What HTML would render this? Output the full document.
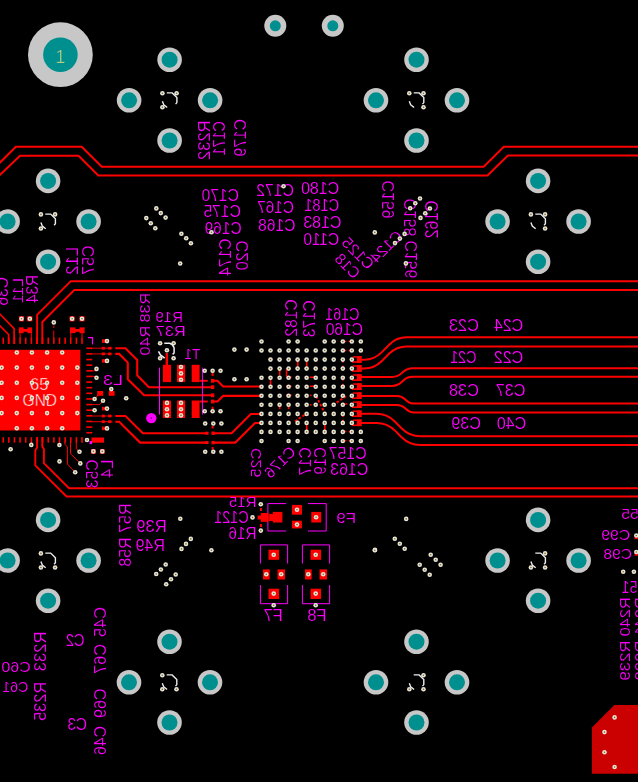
<!DOCTYPE html>
<html><head><meta charset="utf-8"><title>PCB</title>
<style>html,body{margin:0;padding:0;background:#000;overflow:hidden}svg{display:block}text{font-family:"Liberation Sans",sans-serif}</style>
</head><body>
<svg width="638" height="782" viewBox="0 0 638 782">
<rect width="638" height="782" fill="#000"/>
<g opacity="0.999">
<path d="M-2.00,164.50 L15.90,146.70 L81.70,146.70 L101.80,166.80 L483.70,166.80 L503.80,146.70 L640.00,146.70" stroke="#ff0000" stroke-width="2.00" fill="none" />
<path d="M-2.00,176.80 L20.00,155.80 L78.50,155.80 L98.30,175.50 L487.50,175.50 L507.90,155.50 L640.00,155.50" stroke="#ff0000" stroke-width="2.00" fill="none" />
<path d="M37.10,344.00 L37.10,314.90 L70.80,281.20 L640.00,281.20" stroke="#ff0000" stroke-width="1.90" fill="none" />
<path d="M42.30,344.00 L42.30,322.00 L74.30,290.00 L640.00,290.00" stroke="#ff0000" stroke-width="1.90" fill="none" />
<path d="M-2.00,312.10 L14.10,328.60 L14.10,344.00" stroke="#ff0000" stroke-width="1.70" fill="none" />
<path d="M-2.00,323.90 L8.60,334.50 L8.60,344.00" stroke="#ff0000" stroke-width="1.70" fill="none" />
<path d="M37.10,437.00 L37.10,447.40 L35.30,450.50 L35.30,465.30 L66.50,496.50 L640.00,496.50" stroke="#ff0000" stroke-width="1.90" fill="none" />
<path d="M42.30,437.00 L42.30,446.60 L43.90,449.00 L43.90,463.10 L69.00,488.20 L640.00,488.20" stroke="#ff0000" stroke-width="1.90" fill="none" />
<rect x="-1.00" y="349.80" width="81.40" height="80.70" fill="#ff0000"/>
<rect x="-3.23" y="337.60" width="1.60" height="6.30" fill="#ff0000"/>
<rect x="-3.23" y="437.20" width="1.60" height="5.50" fill="#ff0000"/>
<rect x="86.30" y="347.47" width="6.00" height="1.60" fill="#ff0000"/>
<rect x="2.40" y="337.60" width="1.60" height="6.30" fill="#ff0000"/>
<rect x="2.40" y="437.20" width="1.60" height="5.50" fill="#ff0000"/>
<rect x="86.30" y="353.10" width="6.00" height="1.60" fill="#ff0000"/>
<rect x="8.03" y="337.60" width="1.60" height="6.30" fill="#ff0000"/>
<rect x="8.03" y="437.20" width="1.60" height="5.50" fill="#ff0000"/>
<rect x="86.30" y="358.74" width="6.00" height="1.60" fill="#ff0000"/>
<rect x="13.66" y="337.60" width="1.60" height="6.30" fill="#ff0000"/>
<rect x="13.66" y="437.20" width="1.60" height="5.50" fill="#ff0000"/>
<rect x="86.30" y="364.37" width="6.00" height="1.60" fill="#ff0000"/>
<rect x="19.29" y="337.60" width="1.60" height="6.30" fill="#ff0000"/>
<rect x="19.29" y="437.20" width="1.60" height="5.50" fill="#ff0000"/>
<rect x="86.30" y="370.00" width="6.00" height="1.60" fill="#ff0000"/>
<rect x="24.92" y="337.60" width="1.60" height="6.30" fill="#ff0000"/>
<rect x="24.92" y="437.20" width="1.60" height="5.50" fill="#ff0000"/>
<rect x="86.30" y="375.62" width="6.00" height="1.60" fill="#ff0000"/>
<rect x="30.55" y="337.60" width="1.60" height="6.30" fill="#ff0000"/>
<rect x="30.55" y="437.20" width="1.60" height="5.50" fill="#ff0000"/>
<rect x="86.30" y="381.25" width="6.00" height="1.60" fill="#ff0000"/>
<rect x="36.19" y="337.60" width="1.60" height="6.30" fill="#ff0000"/>
<rect x="36.19" y="437.20" width="1.60" height="5.50" fill="#ff0000"/>
<rect x="86.30" y="386.88" width="6.00" height="1.60" fill="#ff0000"/>
<rect x="41.81" y="337.60" width="1.60" height="6.30" fill="#ff0000"/>
<rect x="41.81" y="437.20" width="1.60" height="5.50" fill="#ff0000"/>
<rect x="86.30" y="392.51" width="6.00" height="1.60" fill="#ff0000"/>
<rect x="47.45" y="337.60" width="1.60" height="6.30" fill="#ff0000"/>
<rect x="47.45" y="437.20" width="1.60" height="5.50" fill="#ff0000"/>
<rect x="86.30" y="398.14" width="6.00" height="1.60" fill="#ff0000"/>
<rect x="53.08" y="337.60" width="1.60" height="6.30" fill="#ff0000"/>
<rect x="53.08" y="437.20" width="1.60" height="5.50" fill="#ff0000"/>
<rect x="86.30" y="403.77" width="6.00" height="1.60" fill="#ff0000"/>
<rect x="58.70" y="337.60" width="1.60" height="6.30" fill="#ff0000"/>
<rect x="58.70" y="437.20" width="1.60" height="5.50" fill="#ff0000"/>
<rect x="86.30" y="409.40" width="6.00" height="1.60" fill="#ff0000"/>
<rect x="64.33" y="337.60" width="1.60" height="6.30" fill="#ff0000"/>
<rect x="64.33" y="437.20" width="1.60" height="5.50" fill="#ff0000"/>
<rect x="86.30" y="415.03" width="6.00" height="1.60" fill="#ff0000"/>
<rect x="69.97" y="337.60" width="1.60" height="6.30" fill="#ff0000"/>
<rect x="69.97" y="437.20" width="1.60" height="5.50" fill="#ff0000"/>
<rect x="86.30" y="420.66" width="6.00" height="1.60" fill="#ff0000"/>
<rect x="75.59" y="337.60" width="1.60" height="6.30" fill="#ff0000"/>
<rect x="75.59" y="437.20" width="1.60" height="5.50" fill="#ff0000"/>
<rect x="86.30" y="426.30" width="6.00" height="1.60" fill="#ff0000"/>
<rect x="81.23" y="337.60" width="1.60" height="6.30" fill="#ff0000"/>
<rect x="81.23" y="437.20" width="1.60" height="5.50" fill="#ff0000"/>
<rect x="86.30" y="431.93" width="6.00" height="1.60" fill="#ff0000"/>
<path d="M88.00,337.60 L92.50,337.60 L92.50,344.50" stroke="#ff00ff" stroke-width="1.20" fill="none" />
<text transform="matrix(1.0000,0.0000,-0.0000,1.0000,39.20,383.80)" x="0" y="5.90" font-size="16.74" text-anchor="middle" textLength="18.40" lengthAdjust="spacingAndGlyphs" fill="#ffffff" stroke="#ff0000" stroke-width="0.4">65</text>
<text transform="matrix(1.0000,0.0000,-0.0000,1.0000,39.80,400.00)" x="0" y="5.90" font-size="16.74" text-anchor="middle" textLength="34.40" lengthAdjust="spacingAndGlyphs" fill="#ffffff" stroke="#ff0000" stroke-width="0.4">GND</text>
<rect x="18.90" y="316.20" width="5.20" height="5.20" fill="#ff0000"/>
<rect x="27.20" y="316.20" width="5.20" height="5.20" fill="#ff0000"/>
<rect x="18.80" y="327.40" width="4.80" height="5.80" fill="#ff0000"/>
<rect x="27.40" y="327.40" width="4.70" height="5.80" fill="#ff0000"/>
<rect x="23.00" y="329.00" width="5.00" height="2.80" fill="#ff0000"/>
<path d="M20.10,333.00 L20.10,338.00" stroke="#ff0000" stroke-width="1.00" fill="none" />
<path d="M31.30,333.00 L31.30,338.00" stroke="#ff0000" stroke-width="1.00" fill="none" />
<rect x="69.50" y="316.20" width="5.20" height="5.20" fill="#ff0000"/>
<rect x="79.40" y="316.20" width="5.20" height="5.20" fill="#ff0000"/>
<rect x="70.00" y="327.40" width="5.50" height="5.80" fill="#ff0000"/>
<rect x="79.50" y="327.40" width="5.10" height="5.80" fill="#ff0000"/>
<rect x="75.00" y="329.00" width="5.00" height="2.80" fill="#ff0000"/>
<path d="M70.80,333.00 L70.80,338.00" stroke="#ff0000" stroke-width="1.00" fill="none" />
<path d="M82.00,333.00 L82.00,338.00" stroke="#ff0000" stroke-width="1.00" fill="none" />
<path d="M53.80,325.50 L53.80,328.00" stroke="#ff0000" stroke-width="1.00" fill="none" />
<path d="M53.80,330.50 L53.80,338.00" stroke="#ff0000" stroke-width="1.00" fill="none" />
<path d="M31.30,442.00 L31.30,444.70" stroke="#ff0000" stroke-width="1.00" fill="none" />
<path d="M59.40,442.00 L59.40,445.00" stroke="#ff0000" stroke-width="1.00" fill="none" />
<path d="M65.00,442.00 L65.00,444.50 L67.40,447.00 L67.40,464.00 L75.20,472.30" stroke="#ff0000" stroke-width="1.00" fill="none" />
<path d="M70.50,442.00 L70.50,453.70 L80.30,463.40" stroke="#ff0000" stroke-width="1.00" fill="none" />
<path d="M76.30,442.00 L76.30,448.60 L79.50,451.80" stroke="#ff0000" stroke-width="1.00" fill="none" />
<rect x="91.50" y="437.50" width="12.50" height="5.20" fill="#ff0000"/>
<rect x="89.5" y="441" width="2.6" height="3.2" fill="#ff00ff"/>
<rect x="91.00" y="449.00" width="4.80" height="4.80" fill="#ff0000"/>
<rect x="99.90" y="449.00" width="4.80" height="4.80" fill="#ff0000"/>
<path d="M92.00,348.20 L112.50,348.20" stroke="#ff0000" stroke-width="0.90" fill="none" />
<rect x="101.70" y="346.80" width="3.20" height="2.80" fill="#ff0000"/>
<rect x="108.20" y="346.80" width="3.20" height="2.80" fill="#ff0000"/>
<path d="M92.00,353.90 L112.50,353.90" stroke="#ff0000" stroke-width="0.90" fill="none" />
<rect x="101.70" y="352.50" width="3.20" height="2.80" fill="#ff0000"/>
<rect x="108.20" y="352.50" width="3.20" height="2.80" fill="#ff0000"/>
<path d="M92.00,416.00 L112.50,416.00" stroke="#ff0000" stroke-width="0.90" fill="none" />
<rect x="101.70" y="414.60" width="3.20" height="2.80" fill="#ff0000"/>
<rect x="108.20" y="414.60" width="3.20" height="2.80" fill="#ff0000"/>
<path d="M92.00,421.70 L112.50,421.70" stroke="#ff0000" stroke-width="0.90" fill="none" />
<rect x="101.70" y="420.30" width="3.20" height="2.80" fill="#ff0000"/>
<rect x="108.20" y="420.30" width="3.20" height="2.80" fill="#ff0000"/>
<rect x="102.00" y="339.30" width="4.00" height="3.60" fill="#ff0000"/>
<rect x="102.00" y="359.10" width="4.00" height="3.60" fill="#ff0000"/>
<rect x="102.00" y="406.80" width="4.00" height="3.60" fill="#ff0000"/>
<rect x="102.00" y="426.60" width="4.00" height="3.60" fill="#ff0000"/>
<path d="M92.00,370.80 L96.50,370.80" stroke="#ff0000" stroke-width="0.90" fill="none" />
<path d="M92.00,376.40 L96.50,376.40" stroke="#ff0000" stroke-width="0.90" fill="none" />
<rect x="97.20" y="391.00" width="6.00" height="4.80" fill="#ff0000"/>
<rect x="108.70" y="391.00" width="5.90" height="4.80" fill="#ff0000"/>
<path d="M92.00,399.00 L94.60,399.00 L99.00,394.00" stroke="#ff0000" stroke-width="0.90" fill="none" />
<path d="M92.00,404.60 L99.50,404.60 L103.00,400.80" stroke="#ff0000" stroke-width="0.90" fill="none" />
<path d="M92.00,410.20 L94.60,410.20" stroke="#ff0000" stroke-width="0.90" fill="none" />
<path d="M115.30,348.20 L125.50,348.20 L137.20,359.90 L137.20,375.30 L148.80,387.20 L212.80,387.20" stroke="#ff0000" stroke-width="2.10" fill="none" />
<path d="M115.30,353.90 L119.20,353.90 L127.80,362.60 L127.80,379.20 L144.10,395.30 L212.80,395.30" stroke="#ff0000" stroke-width="2.10" fill="none" />
<path d="M115.30,416.00 L125.50,416.00 L142.80,433.20 L208.40,433.20" stroke="#ff0000" stroke-width="2.10" fill="none" />
<path d="M115.30,421.70 L119.20,421.70 L140.10,442.60 L208.40,442.60" stroke="#ff0000" stroke-width="2.10" fill="none" />
<path d="M211.60,433.20 L231.60,433.20 L250.80,414.00 L261.50,414.00" stroke="#ff0000" stroke-width="2.10" fill="none" />
<path d="M211.60,442.60 L235.30,442.60 L255.00,423.00 L261.50,423.00" stroke="#ff0000" stroke-width="2.10" fill="none" />
<path d="M213.00,380.80 L217.50,380.80 L223.10,386.50 L261.50,386.50" stroke="#ff0000" stroke-width="2.10" fill="none" />
<path d="M213.00,401.50 L217.50,401.50 L223.10,395.90 L261.50,395.90" stroke="#ff0000" stroke-width="2.10" fill="none" />
<rect x="211.00" y="378.90" width="3.30" height="3.80" fill="#ff0000"/>
<rect x="211.00" y="385.30" width="3.30" height="3.80" fill="#ff0000"/>
<rect x="211.00" y="393.40" width="3.30" height="3.80" fill="#ff0000"/>
<rect x="211.00" y="399.60" width="3.30" height="3.80" fill="#ff0000"/>
<rect x="211.60" y="372.80" width="2.00" height="3.20" fill="#ff0000"/>
<rect x="211.60" y="406.70" width="2.00" height="2.60" fill="#ff0000"/>
<rect x="211.60" y="425.90" width="2.00" height="2.60" fill="#ff0000"/>
<rect x="211.60" y="447.00" width="2.00" height="2.60" fill="#ff0000"/>
<path d="M199.60,380.80 L207.80,380.80" stroke="#ff0000" stroke-width="1.90" fill="none" />
<path d="M199.60,401.50 L207.80,401.50" stroke="#ff0000" stroke-width="1.90" fill="none" />
<rect x="205.20" y="431.70" width="3.20" height="3.00" fill="#ff0000"/>
<rect x="205.20" y="441.10" width="3.20" height="3.00" fill="#ff0000"/>
<rect x="211.60" y="431.50" width="3.20" height="3.40" fill="#ff0000"/>
<rect x="211.60" y="440.90" width="3.20" height="3.40" fill="#ff0000"/>
<path d="M159.50,367.60 L159.50,414.60" stroke="#ff00ff" stroke-width="1.00" fill="none" />
<path d="M202.40,367.60 L202.40,414.60" stroke="#ff00ff" stroke-width="1.00" fill="none" />
<rect x="162.90" y="364.80" width="8.10" height="17.30" fill="#ff0000"/>
<rect x="162.90" y="400.50" width="8.10" height="17.50" fill="#ff0000"/>
<rect x="177.00" y="364.80" width="8.10" height="17.30" fill="#ff0000"/>
<rect x="177.00" y="400.50" width="8.10" height="17.50" fill="#ff0000"/>
<rect x="191.70" y="364.80" width="7.90" height="17.30" fill="#ff0000"/>
<rect x="191.70" y="400.50" width="7.90" height="17.50" fill="#ff0000"/>
<path d="M166.80,353.00 L166.80,365.00" stroke="#ff0000" stroke-width="2.40" fill="none" />
<circle cx="151.3" cy="418.1" r="5.2" fill="#ff00ff"/><circle cx="151.3" cy="418.1" r="0.8" fill="#700070"/>
<path d="M164.3,343.2 H169.5 Q172.5,343.8 174.1,347.8 V353 L172.6,354.4" stroke="#f0f0f0" stroke-width="1.50" fill="none" />
<path d="M158.5,351.4 L160.4,354.9 L164.7,358.2" stroke="#f0f0f0" stroke-width="1.50" fill="none" />
<rect x="352.90" y="356.19" width="8.70" height="1.50" fill="#ff0000"/>
<rect x="351.90" y="361.19" width="9.70" height="1.60" fill="#ff0000"/>
<rect x="356.90" y="356.19" width="4.70" height="6.60" fill="#ff0000"/>
<rect x="352.90" y="365.24" width="8.70" height="1.50" fill="#ff0000"/>
<rect x="351.90" y="370.24" width="9.70" height="1.60" fill="#ff0000"/>
<rect x="356.90" y="365.24" width="4.70" height="6.60" fill="#ff0000"/>
<rect x="352.90" y="374.28" width="8.70" height="1.50" fill="#ff0000"/>
<rect x="351.90" y="379.28" width="9.70" height="1.60" fill="#ff0000"/>
<rect x="356.90" y="374.28" width="4.70" height="6.60" fill="#ff0000"/>
<rect x="352.90" y="383.33" width="8.70" height="1.50" fill="#ff0000"/>
<rect x="351.90" y="388.33" width="9.70" height="1.60" fill="#ff0000"/>
<rect x="356.90" y="383.33" width="4.70" height="6.60" fill="#ff0000"/>
<rect x="352.90" y="392.37" width="8.70" height="1.50" fill="#ff0000"/>
<rect x="351.90" y="397.37" width="9.70" height="1.60" fill="#ff0000"/>
<rect x="356.90" y="392.37" width="4.70" height="6.60" fill="#ff0000"/>
<rect x="352.90" y="401.42" width="8.70" height="1.50" fill="#ff0000"/>
<rect x="351.90" y="406.42" width="9.70" height="1.60" fill="#ff0000"/>
<rect x="356.90" y="401.42" width="4.70" height="6.60" fill="#ff0000"/>
<rect x="352.90" y="410.46" width="8.70" height="1.50" fill="#ff0000"/>
<rect x="351.90" y="415.46" width="9.70" height="1.60" fill="#ff0000"/>
<rect x="356.90" y="410.46" width="4.70" height="6.60" fill="#ff0000"/>
<rect x="352.90" y="419.50" width="8.70" height="1.50" fill="#ff0000"/>
<rect x="351.90" y="424.50" width="9.70" height="1.60" fill="#ff0000"/>
<rect x="356.90" y="419.50" width="4.70" height="6.60" fill="#ff0000"/>
<rect x="296.96" y="361.72" width="1.60" height="5.17" fill="#ff0000"/>
<rect x="305.92" y="361.72" width="1.60" height="5.17" fill="#ff0000"/>
<rect x="278.86" y="369.48" width="1.60" height="6.03" fill="#ff0000"/>
<rect x="285.75" y="368.62" width="1.60" height="7.76" fill="#ff0000"/>
<rect x="269.72" y="378.97" width="1.60" height="6.90" fill="#ff0000"/>
<rect x="278.86" y="403.10" width="1.60" height="6.03" fill="#ff0000"/>
<rect x="287.82" y="403.10" width="1.60" height="6.03" fill="#ff0000"/>
<rect x="305.92" y="423.79" width="1.60" height="6.90" fill="#ff0000"/>
<rect x="324.03" y="423.79" width="1.60" height="6.90" fill="#ff0000"/>
<rect x="342.13" y="361.21" width="1.60" height="1.38" fill="#ff0000"/>
<rect x="342.13" y="365.69" width="1.60" height="1.38" fill="#ff0000"/>
<rect x="342.13" y="379.31" width="1.60" height="1.38" fill="#ff0000"/>
<rect x="342.13" y="383.79" width="1.60" height="1.38" fill="#ff0000"/>
<rect x="342.13" y="415.52" width="1.60" height="1.38" fill="#ff0000"/>
<rect x="342.13" y="419.83" width="1.60" height="1.38" fill="#ff0000"/>
<rect x="296.96" y="360.86" width="1.60" height="1.72" fill="#ff0000"/>
<rect x="286.03" y="376.44" width="5.52" height="1.60" fill="#ff0000"/>
<rect x="286.03" y="385.41" width="5.52" height="1.60" fill="#ff0000"/>
<rect x="286.03" y="394.54" width="5.52" height="1.60" fill="#ff0000"/>
<rect x="309.83" y="376.44" width="4.14" height="1.60" fill="#ff0000"/>
<rect x="309.83" y="385.41" width="4.14" height="1.60" fill="#ff0000"/>
<rect x="309.83" y="394.54" width="1.72" height="1.60" fill="#ff0000"/>
<rect x="309.83" y="404.03" width="1.72" height="1.60" fill="#ff0000"/>
<rect x="345.00" y="340.58" width="1.38" height="1.60" fill="#ff0000"/>
<rect x="348.62" y="340.58" width="1.21" height="1.60" fill="#ff0000"/>
<rect x="345.00" y="349.72" width="1.38" height="1.60" fill="#ff0000"/>
<rect x="348.62" y="349.72" width="1.21" height="1.60" fill="#ff0000"/>
<rect x="345.00" y="430.75" width="1.38" height="1.60" fill="#ff0000"/>
<rect x="348.62" y="430.75" width="1.21" height="1.60" fill="#ff0000"/>
<rect x="345.00" y="439.89" width="1.38" height="1.60" fill="#ff0000"/>
<rect x="348.62" y="439.89" width="1.21" height="1.60" fill="#ff0000"/>
<rect x="345.00" y="403.17" width="2.24" height="1.60" fill="#ff0000"/>
<path d="M316.21,396.21 L325.34,414.31" stroke="#ff0000" stroke-width="2.00" fill="none" stroke-dasharray="2.6 1.8"/>
<path d="M346.03,396.21 L333.45,404.83" stroke="#ff0000" stroke-width="2.00" fill="none" stroke-dasharray="2.6 1.8"/>
<path d="M295.00,421.21 L306.72,413.45" stroke="#ff0000" stroke-width="2.00" fill="none" stroke-dasharray="2.6 1.8"/>
<path d="M361.00,359.70 H364.20 a24.20,24.20 0 0 0 17.11,-7.09 l8.17,-8.17 a24.20,24.20 0 0 1 17.11,-7.09 H640.00" stroke="#ff0000" stroke-width="2.00" fill="none" />
<path d="M361.00,368.50 H364.20 a24.51,24.51 0 0 0 17.33,-7.18 l7.74,-7.74 a24.51,24.51 0 0 1 17.33,-7.18 H640.00" stroke="#ff0000" stroke-width="2.00" fill="none" />
<path d="M361.00,376.90 H392.00 a14.49,14.49 0 0 0 10.24,-4.24 l0.21,-0.21 a14.49,14.49 0 0 1 10.24,-4.24 H640.00" stroke="#ff0000" stroke-width="2.00" fill="none" />
<path d="M361.00,385.90 H392.00 a14.06,14.06 0 0 0 9.94,-4.12 l0.81,-0.81 a14.06,14.06 0 0 1 9.94,-4.12 H640.00" stroke="#ff0000" stroke-width="2.00" fill="none" />
<path d="M361.00,395.90 H397.00 a11.35,11.35 0 0 1 8.02,3.32 l1.05,1.05 a11.35,11.35 0 0 0 8.02,3.32 H640.00" stroke="#ff0000" stroke-width="2.00" fill="none" />
<path d="M361.00,404.90 H397.00 a11.59,11.59 0 0 1 8.19,3.39 l0.71,0.71 a11.59,11.59 0 0 0 8.19,3.39 H640.00" stroke="#ff0000" stroke-width="2.00" fill="none" />
<path d="M361.00,413.80 H376.40 a25.71,25.71 0 0 1 18.18,7.53 l7.44,7.44 a25.71,25.71 0 0 0 18.18,7.53 H640.00" stroke="#ff0000" stroke-width="2.00" fill="none" />
<path d="M361.00,422.90 H376.40 a26.32,26.32 0 0 1 18.61,7.71 l6.58,6.58 a26.32,26.32 0 0 0 18.61,7.71 H640.00" stroke="#ff0000" stroke-width="2.00" fill="none" />
<path d="M286.10,503.60 L267.90,503.60 L267.90,531.00 L286.10,531.00" stroke="#ff00ff" stroke-width="1.00" fill="none" />
<path d="M308.00,503.60 L326.20,503.60 L326.20,531.00 L308.00,531.00" stroke="#ff00ff" stroke-width="1.00" fill="none" />
<rect x="272.90" y="511.90" width="9.50" height="10.60" fill="#ff0000"/>
<rect x="260.80" y="513.00" width="7.80" height="8.80" fill="#ff0000"/>
<rect x="257.60" y="515.50" width="3.40" height="4.00" fill="#ff0000"/>
<rect x="266.00" y="514.00" width="8.00" height="7.00" fill="#ff0000"/>
<rect x="268.4" y="512.5" width="1" height="10" fill="#a00"/>
<rect x="292.10" y="504.90" width="9.80" height="9.80" fill="#ff0000"/>
<rect x="292.00" y="520.70" width="9.90" height="7.70" fill="#ff0000"/>
<rect x="292.00" y="505.80" width="9.90" height="7.90" fill="#ff0000"/>
<rect x="311.30" y="511.90" width="9.90" height="10.60" fill="#ff0000"/>
<path d="M260.40,563.50 L260.40,544.90 L287.60,544.90 L287.60,563.50" stroke="#ff00ff" stroke-width="1.00" fill="none" />
<path d="M260.40,585.00 L260.40,603.70 L287.60,603.70 L287.60,585.00" stroke="#ff00ff" stroke-width="1.00" fill="none" />
<rect x="268.50" y="549.70" width="10.60" height="10.10" fill="#ff0000"/>
<rect x="268.50" y="588.70" width="10.60" height="10.30" fill="#ff0000"/>
<rect x="263.00" y="569.40" width="6.70" height="10.10" fill="#ff0000"/>
<rect x="277.50" y="569.40" width="7.50" height="10.10" fill="#ff0000"/>
<path d="M302.40,563.50 L302.40,544.90 L329.60,544.90 L329.60,563.50" stroke="#ff00ff" stroke-width="1.00" fill="none" />
<path d="M302.40,585.00 L302.40,603.70 L329.60,603.70 L329.60,585.00" stroke="#ff00ff" stroke-width="1.00" fill="none" />
<rect x="310.50" y="549.70" width="10.60" height="10.10" fill="#ff0000"/>
<rect x="310.50" y="588.70" width="10.60" height="10.30" fill="#ff0000"/>
<rect x="305.00" y="569.40" width="6.70" height="10.10" fill="#ff0000"/>
<rect x="319.50" y="569.40" width="7.50" height="10.10" fill="#ff0000"/>
<rect x="260.00" y="508.00" width="2.00" height="3.00" fill="#ff0000"/>
<rect x="260.00" y="524.00" width="2.00" height="3.00" fill="#ff0000"/>
<rect x="634.60" y="536.00" width="3.40" height="3.20" fill="#ff0000"/>
<rect x="634.60" y="552.50" width="3.40" height="3.20" fill="#ff0000"/>
<polygon points="591.9,727.4 614.3,705 640,705 640,773.8 591.9,773.8" fill="#cc0000"/>
<circle cx="60.4" cy="54.7" r="32.4" fill="#c8c8c8"/><circle cx="60.4" cy="54.7" r="17.3" fill="#009090"/>
<text x="60.6" y="62.6" font-size="18" text-anchor="middle" fill="#ffe680" stroke="#009090" stroke-width="0.6">1</text>
<circle cx="275.3" cy="25.8" r="11.0" fill="#c8c8c8"/><circle cx="275.3" cy="25.8" r="5.5" fill="#009090"/>
<circle cx="332.8" cy="25.8" r="11.0" fill="#c8c8c8"/><circle cx="332.8" cy="25.8" r="5.5" fill="#009090"/>
<circle cx="169.6" cy="59.7" r="12.3" fill="#c8c8c8"/><circle cx="169.6" cy="59.7" r="8.0" fill="#009090"/>
<circle cx="129.1" cy="100.3" r="12.3" fill="#c8c8c8"/><circle cx="129.1" cy="100.3" r="8.0" fill="#009090"/>
<circle cx="210.1" cy="100.3" r="12.3" fill="#c8c8c8"/><circle cx="210.1" cy="100.3" r="8.0" fill="#009090"/>
<circle cx="169.6" cy="140.5" r="12.3" fill="#c8c8c8"/><circle cx="169.6" cy="140.5" r="8.0" fill="#009090"/>
<path d="M166.80,92.90 h5.4 l4.7,4.7 v5 l-1.3,1.5" stroke="#f0f0f0" stroke-width="1.40" fill="none" />
<path d="M162.40,101.30 l1.4,3.6 l3.4,2.6" stroke="#f0f0f0" stroke-width="1.40" fill="none" />
<circle cx="416.5" cy="59.7" r="12.3" fill="#c8c8c8"/><circle cx="416.5" cy="59.7" r="8.0" fill="#009090"/>
<circle cx="376.0" cy="100.3" r="12.3" fill="#c8c8c8"/><circle cx="376.0" cy="100.3" r="8.0" fill="#009090"/>
<circle cx="457.0" cy="100.3" r="12.3" fill="#c8c8c8"/><circle cx="457.0" cy="100.3" r="8.0" fill="#009090"/>
<circle cx="416.5" cy="140.5" r="12.3" fill="#c8c8c8"/><circle cx="416.5" cy="140.5" r="8.0" fill="#009090"/>
<path d="M413.70,92.90 h5.4 l4.7,4.7 v5 l-1.3,1.5" stroke="#f0f0f0" stroke-width="1.40" fill="none" />
<path d="M409.30,101.30 l1.4,3.6 l3.4,2.6" stroke="#f0f0f0" stroke-width="1.40" fill="none" />
<circle cx="48.1" cy="180.9" r="12.3" fill="#c8c8c8"/><circle cx="48.1" cy="180.9" r="8.0" fill="#009090"/>
<circle cx="7.6" cy="221.5" r="12.3" fill="#c8c8c8"/><circle cx="7.6" cy="221.5" r="8.0" fill="#009090"/>
<circle cx="88.6" cy="221.5" r="12.3" fill="#c8c8c8"/><circle cx="88.6" cy="221.5" r="8.0" fill="#009090"/>
<circle cx="48.1" cy="261.7" r="12.3" fill="#c8c8c8"/><circle cx="48.1" cy="261.7" r="8.0" fill="#009090"/>
<path d="M45.30,214.10 h5.4 l4.7,4.7 v5 l-1.3,1.5" stroke="#f0f0f0" stroke-width="1.40" fill="none" />
<path d="M40.90,222.50 l1.4,3.6 l3.4,2.6" stroke="#f0f0f0" stroke-width="1.40" fill="none" />
<circle cx="538.1" cy="180.9" r="12.3" fill="#c8c8c8"/><circle cx="538.1" cy="180.9" r="8.0" fill="#009090"/>
<circle cx="497.6" cy="221.5" r="12.3" fill="#c8c8c8"/><circle cx="497.6" cy="221.5" r="8.0" fill="#009090"/>
<circle cx="578.6" cy="221.5" r="12.3" fill="#c8c8c8"/><circle cx="578.6" cy="221.5" r="8.0" fill="#009090"/>
<circle cx="538.1" cy="261.7" r="12.3" fill="#c8c8c8"/><circle cx="538.1" cy="261.7" r="8.0" fill="#009090"/>
<path d="M535.30,214.10 h5.4 l4.7,4.7 v5 l-1.3,1.5" stroke="#f0f0f0" stroke-width="1.40" fill="none" />
<path d="M530.90,222.50 l1.4,3.6 l3.4,2.6" stroke="#f0f0f0" stroke-width="1.40" fill="none" />
<circle cx="48.1" cy="519.9" r="12.3" fill="#c8c8c8"/><circle cx="48.1" cy="519.9" r="8.0" fill="#009090"/>
<circle cx="7.6" cy="560.5" r="12.3" fill="#c8c8c8"/><circle cx="7.6" cy="560.5" r="8.0" fill="#009090"/>
<circle cx="88.6" cy="560.5" r="12.3" fill="#c8c8c8"/><circle cx="88.6" cy="560.5" r="8.0" fill="#009090"/>
<circle cx="48.1" cy="600.7" r="12.3" fill="#c8c8c8"/><circle cx="48.1" cy="600.7" r="8.0" fill="#009090"/>
<path d="M45.30,553.10 h5.4 l4.7,4.7 v5 l-1.3,1.5" stroke="#f0f0f0" stroke-width="1.40" fill="none" />
<path d="M40.90,561.50 l1.4,3.6 l3.4,2.6" stroke="#f0f0f0" stroke-width="1.40" fill="none" />
<circle cx="538.1" cy="519.9" r="12.3" fill="#c8c8c8"/><circle cx="538.1" cy="519.9" r="8.0" fill="#009090"/>
<circle cx="497.6" cy="560.5" r="12.3" fill="#c8c8c8"/><circle cx="497.6" cy="560.5" r="8.0" fill="#009090"/>
<circle cx="578.6" cy="560.5" r="12.3" fill="#c8c8c8"/><circle cx="578.6" cy="560.5" r="8.0" fill="#009090"/>
<circle cx="538.1" cy="600.7" r="12.3" fill="#c8c8c8"/><circle cx="538.1" cy="600.7" r="8.0" fill="#009090"/>
<path d="M535.30,553.10 h5.4 l4.7,4.7 v5 l-1.3,1.5" stroke="#f0f0f0" stroke-width="1.40" fill="none" />
<path d="M530.90,561.50 l1.4,3.6 l3.4,2.6" stroke="#f0f0f0" stroke-width="1.40" fill="none" />
<circle cx="169.5" cy="641.7" r="12.3" fill="#c8c8c8"/><circle cx="169.5" cy="641.7" r="8.0" fill="#009090"/>
<circle cx="129.0" cy="682.3" r="12.3" fill="#c8c8c8"/><circle cx="129.0" cy="682.3" r="8.0" fill="#009090"/>
<circle cx="210.0" cy="682.3" r="12.3" fill="#c8c8c8"/><circle cx="210.0" cy="682.3" r="8.0" fill="#009090"/>
<circle cx="169.5" cy="722.5" r="12.3" fill="#c8c8c8"/><circle cx="169.5" cy="722.5" r="8.0" fill="#009090"/>
<path d="M166.70,674.90 h5.4 l4.7,4.7 v5 l-1.3,1.5" stroke="#f0f0f0" stroke-width="1.40" fill="none" />
<path d="M162.30,683.30 l1.4,3.6 l3.4,2.6" stroke="#f0f0f0" stroke-width="1.40" fill="none" />
<circle cx="416.5" cy="641.7" r="12.3" fill="#c8c8c8"/><circle cx="416.5" cy="641.7" r="8.0" fill="#009090"/>
<circle cx="376.0" cy="682.3" r="12.3" fill="#c8c8c8"/><circle cx="376.0" cy="682.3" r="8.0" fill="#009090"/>
<circle cx="457.0" cy="682.3" r="12.3" fill="#c8c8c8"/><circle cx="457.0" cy="682.3" r="8.0" fill="#009090"/>
<circle cx="416.5" cy="722.5" r="12.3" fill="#c8c8c8"/><circle cx="416.5" cy="722.5" r="8.0" fill="#009090"/>
<path d="M413.70,674.90 h5.4 l4.7,4.7 v5 l-1.3,1.5" stroke="#f0f0f0" stroke-width="1.40" fill="none" />
<path d="M409.30,683.30 l1.4,3.6 l3.4,2.6" stroke="#f0f0f0" stroke-width="1.40" fill="none" />
<text transform="matrix(0.0000,1.0000,1.0000,-0.0000,204.50,140.20)" x="0" y="5.50" font-size="15.60" text-anchor="middle" textLength="39.60" lengthAdjust="spacingAndGlyphs" fill="#ff00ff" stroke="#000" stroke-width="0.15">R232</text>
<text transform="matrix(0.0000,1.0000,1.0000,-0.0000,219.70,138.40)" x="0" y="5.60" font-size="15.89" text-anchor="middle" textLength="34.40" lengthAdjust="spacingAndGlyphs" fill="#ff00ff" stroke="#000" stroke-width="0.15">C171</text>
<text transform="matrix(0.0000,1.0000,1.0000,-0.0000,240.10,137.80)" x="0" y="5.90" font-size="16.74" text-anchor="middle" textLength="37.40" lengthAdjust="spacingAndGlyphs" fill="#ff00ff" stroke="#000" stroke-width="0.15">C179</text>
<text transform="matrix(0.0000,1.0000,1.0000,-0.0000,87.90,260.10)" x="0" y="6.00" font-size="17.02" text-anchor="middle" textLength="29.40" lengthAdjust="spacingAndGlyphs" fill="#ff00ff" stroke="#000" stroke-width="0.15">C57</text>
<text transform="matrix(0.0000,1.0000,1.0000,-0.0000,72.10,260.80)" x="0" y="6.10" font-size="17.30" text-anchor="middle" textLength="28.00" lengthAdjust="spacingAndGlyphs" fill="#ff00ff" stroke="#000" stroke-width="0.15">L12</text>
<text transform="matrix(0.0000,1.0000,1.0000,-0.0000,31.95,289.10)" x="0" y="5.65" font-size="16.03" text-anchor="middle" textLength="28.00" lengthAdjust="spacingAndGlyphs" fill="#ff00ff" stroke="#000" stroke-width="0.15">R34</text>
<text transform="matrix(0.0000,1.0000,1.0000,-0.0000,17.75,290.60)" x="0" y="5.25" font-size="14.89" text-anchor="middle" textLength="25.00" lengthAdjust="spacingAndGlyphs" fill="#ff00ff" stroke="#000" stroke-width="0.15">L11</text>
<text transform="matrix(0.0000,1.0000,1.0000,-0.0000,1.85,291.25)" x="0" y="5.65" font-size="16.03" text-anchor="middle" textLength="28.70" lengthAdjust="spacingAndGlyphs" fill="#ff00ff" stroke="#000" stroke-width="0.15">C36</text>
<text transform="matrix(-1.0000,0.0000,0.0000,1.0000,220.25,195.50)" x="0" y="5.70" font-size="16.17" text-anchor="middle" textLength="37.30" lengthAdjust="spacingAndGlyphs" fill="#ff00ff" stroke="#000" stroke-width="0.15">C170</text>
<text transform="matrix(-1.0000,0.0000,0.0000,1.0000,222.15,210.80)" x="0" y="6.00" font-size="17.02" text-anchor="middle" textLength="37.50" lengthAdjust="spacingAndGlyphs" fill="#ff00ff" stroke="#000" stroke-width="0.15">C175</text>
<text transform="matrix(-1.0000,0.0000,0.0000,1.0000,223.15,228.55)" x="0" y="5.75" font-size="16.31" text-anchor="middle" textLength="37.10" lengthAdjust="spacingAndGlyphs" fill="#ff00ff" stroke="#000" stroke-width="0.15">C169</text>
<text transform="matrix(-1.0000,0.0000,0.0000,1.0000,275.10,190.35)" x="0" y="5.65" font-size="16.03" text-anchor="middle" textLength="37.60" lengthAdjust="spacingAndGlyphs" fill="#ff00ff" stroke="#000" stroke-width="0.15">C172</text>
<text transform="matrix(-1.0000,0.0000,0.0000,1.0000,275.55,207.20)" x="0" y="5.70" font-size="16.17" text-anchor="middle" textLength="36.70" lengthAdjust="spacingAndGlyphs" fill="#ff00ff" stroke="#000" stroke-width="0.15">C167</text>
<text transform="matrix(-1.0000,0.0000,0.0000,1.0000,276.80,225.20)" x="0" y="5.80" font-size="16.45" text-anchor="middle" textLength="37.20" lengthAdjust="spacingAndGlyphs" fill="#ff00ff" stroke="#000" stroke-width="0.15">C168</text>
<text transform="matrix(-1.0000,0.0000,0.0000,1.0000,320.20,187.95)" x="0" y="6.05" font-size="17.16" text-anchor="middle" textLength="38.20" lengthAdjust="spacingAndGlyphs" fill="#ff00ff" stroke="#000" stroke-width="0.15">C180</text>
<text transform="matrix(-1.0000,0.0000,0.0000,1.0000,321.80,205.15)" x="0" y="5.75" font-size="16.31" text-anchor="middle" textLength="35.00" lengthAdjust="spacingAndGlyphs" fill="#ff00ff" stroke="#000" stroke-width="0.15">C181</text>
<text transform="matrix(-1.0000,0.0000,0.0000,1.0000,322.40,221.85)" x="0" y="6.05" font-size="17.16" text-anchor="middle" textLength="38.20" lengthAdjust="spacingAndGlyphs" fill="#ff00ff" stroke="#000" stroke-width="0.15">C183</text>
<text transform="matrix(-1.0000,0.0000,0.0000,1.0000,321.30,238.95)" x="0" y="6.05" font-size="17.16" text-anchor="middle" textLength="36.00" lengthAdjust="spacingAndGlyphs" fill="#ff00ff" stroke="#000" stroke-width="0.15">C110</text>
<text transform="matrix(0.0000,1.0000,1.0000,-0.0000,224.90,257.15)" x="0" y="5.90" font-size="16.74" text-anchor="middle" textLength="37.50" lengthAdjust="spacingAndGlyphs" fill="#ff00ff" stroke="#000" stroke-width="0.15">C174</text>
<text transform="matrix(0.0000,1.0000,1.0000,-0.0000,242.40,255.30)" x="0" y="5.80" font-size="16.45" text-anchor="middle" textLength="29.80" lengthAdjust="spacingAndGlyphs" fill="#ff00ff" stroke="#000" stroke-width="0.15">C20</text>
<text transform="matrix(0.0000,1.0000,1.0000,-0.0000,387.85,199.65)" x="0" y="5.75" font-size="16.31" text-anchor="middle" textLength="38.10" lengthAdjust="spacingAndGlyphs" fill="#ff00ff" stroke="#000" stroke-width="0.15">C159</text>
<text transform="matrix(0.0000,1.0000,1.0000,-0.0000,410.40,217.40)" x="0" y="5.60" font-size="15.89" text-anchor="middle" textLength="37.80" lengthAdjust="spacingAndGlyphs" fill="#ff00ff" stroke="#000" stroke-width="0.15">C158</text>
<text transform="matrix(0.0000,1.0000,1.0000,-0.0000,411.15,259.45)" x="0" y="5.55" font-size="15.74" text-anchor="middle" textLength="37.90" lengthAdjust="spacingAndGlyphs" fill="#ff00ff" stroke="#000" stroke-width="0.15">C156</text>
<text transform="matrix(0.0000,1.0000,1.0000,-0.0000,431.40,219.40)" x="0" y="6.30" font-size="17.87" text-anchor="middle" textLength="37.80" lengthAdjust="spacingAndGlyphs" fill="#ff00ff" stroke="#000" stroke-width="0.15">C162</text>
<text transform="matrix(-0.7071,-0.7071,-0.7071,0.7071,358.20,253.20)" x="0" y="5.50" font-size="15.60" text-anchor="middle" textLength="38.20" lengthAdjust="spacingAndGlyphs" fill="#ff00ff" stroke="#000" stroke-width="0.15">C125</text>
<text transform="matrix(-0.7071,0.7071,0.7071,0.7071,386.10,246.60)" x="0" y="5.50" font-size="15.60" text-anchor="middle" textLength="38.20" lengthAdjust="spacingAndGlyphs" fill="#ff00ff" stroke="#000" stroke-width="0.15">C124</text>
<text transform="matrix(-0.7071,-0.7071,-0.7071,0.7071,347.60,265.80)" x="0" y="5.50" font-size="15.60" text-anchor="middle" textLength="28.20" lengthAdjust="spacingAndGlyphs" fill="#ff00ff" stroke="#000" stroke-width="0.15">C18</text>
<text transform="matrix(0.0000,1.0000,1.0000,-0.0000,144.35,307.60)" x="0" y="5.35" font-size="15.18" text-anchor="middle" textLength="29.40" lengthAdjust="spacingAndGlyphs" fill="#ff00ff" stroke="#000" stroke-width="0.15">R38</text>
<text transform="matrix(0.0000,1.0000,1.0000,-0.0000,144.35,340.70)" x="0" y="5.35" font-size="15.18" text-anchor="middle" textLength="29.80" lengthAdjust="spacingAndGlyphs" fill="#ff00ff" stroke="#000" stroke-width="0.15">R40</text>
<text transform="matrix(-1.0000,0.0000,0.0000,1.0000,169.15,316.50)" x="0" y="5.20" font-size="14.75" text-anchor="middle" textLength="27.50" lengthAdjust="spacingAndGlyphs" fill="#ff00ff" stroke="#000" stroke-width="0.15">R19</text>
<text transform="matrix(-1.0000,0.0000,0.0000,1.0000,170.70,330.80)" x="0" y="5.40" font-size="15.32" text-anchor="middle" textLength="30.00" lengthAdjust="spacingAndGlyphs" fill="#ff00ff" stroke="#000" stroke-width="0.15">R37</text>
<text transform="matrix(-1.0000,0.0000,0.0000,1.0000,192.35,353.60)" x="0" y="5.20" font-size="14.75" text-anchor="middle" textLength="15.70" lengthAdjust="spacingAndGlyphs" fill="#ff00ff" stroke="#000" stroke-width="0.15">T1</text>
<text transform="matrix(0.0000,1.0000,1.0000,-0.0000,290.75,317.95)" x="0" y="5.85" font-size="16.60" text-anchor="middle" textLength="37.30" lengthAdjust="spacingAndGlyphs" fill="#ff00ff" stroke="#000" stroke-width="0.15">C182</text>
<text transform="matrix(0.0000,1.0000,1.0000,-0.0000,308.95,318.75)" x="0" y="5.65" font-size="16.03" text-anchor="middle" textLength="36.90" lengthAdjust="spacingAndGlyphs" fill="#ff00ff" stroke="#000" stroke-width="0.15">C173</text>
<text transform="matrix(-1.0000,0.0000,0.0000,1.0000,342.40,314.40)" x="0" y="5.70" font-size="16.17" text-anchor="middle" textLength="34.40" lengthAdjust="spacingAndGlyphs" fill="#ff00ff" stroke="#000" stroke-width="0.15">C161</text>
<text transform="matrix(-1.0000,0.0000,0.0000,1.0000,344.40,329.15)" x="0" y="5.65" font-size="16.03" text-anchor="middle" textLength="37.40" lengthAdjust="spacingAndGlyphs" fill="#ff00ff" stroke="#000" stroke-width="0.15">C160</text>
<text transform="matrix(-1.0000,0.0000,0.0000,1.0000,112.90,379.95)" x="0" y="5.25" font-size="14.89" text-anchor="middle" textLength="20.00" lengthAdjust="spacingAndGlyphs" fill="#ff00ff" stroke="#000" stroke-width="0.15">L3</text>
<text transform="matrix(-1.0000,0.0000,0.0000,1.0000,463.95,325.30)" x="0" y="5.70" font-size="16.17" text-anchor="middle" textLength="29.90" lengthAdjust="spacingAndGlyphs" fill="#ff00ff" stroke="#000" stroke-width="0.15">C23</text>
<text transform="matrix(-1.0000,0.0000,0.0000,1.0000,508.55,325.30)" x="0" y="5.70" font-size="16.17" text-anchor="middle" textLength="29.50" lengthAdjust="spacingAndGlyphs" fill="#ff00ff" stroke="#000" stroke-width="0.15">C24</text>
<text transform="matrix(-1.0000,0.0000,0.0000,1.0000,463.30,356.80)" x="0" y="5.80" font-size="16.45" text-anchor="middle" textLength="26.20" lengthAdjust="spacingAndGlyphs" fill="#ff00ff" stroke="#000" stroke-width="0.15">C21</text>
<text transform="matrix(-1.0000,0.0000,0.0000,1.0000,508.55,356.80)" x="0" y="5.80" font-size="16.45" text-anchor="middle" textLength="29.50" lengthAdjust="spacingAndGlyphs" fill="#ff00ff" stroke="#000" stroke-width="0.15">C22</text>
<text transform="matrix(-1.0000,0.0000,0.0000,1.0000,463.95,390.00)" x="0" y="5.80" font-size="16.45" text-anchor="middle" textLength="29.90" lengthAdjust="spacingAndGlyphs" fill="#ff00ff" stroke="#000" stroke-width="0.15">C38</text>
<text transform="matrix(-1.0000,0.0000,0.0000,1.0000,510.65,390.00)" x="0" y="5.80" font-size="16.45" text-anchor="middle" textLength="29.50" lengthAdjust="spacingAndGlyphs" fill="#ff00ff" stroke="#000" stroke-width="0.15">C37</text>
<text transform="matrix(-1.0000,0.0000,0.0000,1.0000,466.15,423.60)" x="0" y="5.80" font-size="16.45" text-anchor="middle" textLength="29.50" lengthAdjust="spacingAndGlyphs" fill="#ff00ff" stroke="#000" stroke-width="0.15">C39</text>
<text transform="matrix(-1.0000,0.0000,0.0000,1.0000,511.45,423.60)" x="0" y="5.80" font-size="16.45" text-anchor="middle" textLength="29.50" lengthAdjust="spacingAndGlyphs" fill="#ff00ff" stroke="#000" stroke-width="0.15">C40</text>
<text transform="matrix(-1.0000,0.0000,0.0000,1.0000,347.70,453.40)" x="0" y="5.60" font-size="15.89" text-anchor="middle" textLength="38.20" lengthAdjust="spacingAndGlyphs" fill="#ff00ff" stroke="#000" stroke-width="0.15">C157</text>
<text transform="matrix(-1.0000,0.0000,0.0000,1.0000,349.25,469.20)" x="0" y="5.80" font-size="16.45" text-anchor="middle" textLength="37.90" lengthAdjust="spacingAndGlyphs" fill="#ff00ff" stroke="#000" stroke-width="0.15">C163</text>
<text transform="matrix(0.0000,1.0000,1.0000,-0.0000,320.15,460.85)" x="0" y="5.85" font-size="16.60" text-anchor="middle" textLength="27.30" lengthAdjust="spacingAndGlyphs" fill="#ff00ff" stroke="#000" stroke-width="0.15">C19</text>
<text transform="matrix(0.0000,1.0000,1.0000,-0.0000,304.80,461.40)" x="0" y="6.10" font-size="17.30" text-anchor="middle" textLength="28.40" lengthAdjust="spacingAndGlyphs" fill="#ff00ff" stroke="#000" stroke-width="0.15">C17</text>
<text transform="matrix(-0.7071,0.7071,0.7071,0.7071,279.80,462.00)" x="0" y="5.50" font-size="15.60" text-anchor="middle" textLength="37.20" lengthAdjust="spacingAndGlyphs" fill="#ff00ff" stroke="#000" stroke-width="0.15">C176</text>
<text transform="matrix(0.0000,1.0000,1.0000,-0.0000,255.35,462.65)" x="0" y="5.45" font-size="15.46" text-anchor="middle" textLength="29.30" lengthAdjust="spacingAndGlyphs" fill="#ff00ff" stroke="#000" stroke-width="0.15">C25</text>
<text transform="matrix(0.0000,1.0000,1.0000,-0.0000,91.80,473.90)" x="0" y="5.80" font-size="16.45" text-anchor="middle" textLength="28.80" lengthAdjust="spacingAndGlyphs" fill="#ff00ff" stroke="#000" stroke-width="0.15">C53</text>
<text transform="matrix(0.0000,1.0000,1.0000,-0.0000,107.25,468.65)" x="0" y="5.65" font-size="16.03" text-anchor="middle" textLength="18.30" lengthAdjust="spacingAndGlyphs" fill="#ff00ff" stroke="#000" stroke-width="0.15">L4</text>
<text transform="matrix(0.0000,1.0000,1.0000,-0.0000,125.20,518.30)" x="0" y="6.00" font-size="17.02" text-anchor="middle" textLength="29.40" lengthAdjust="spacingAndGlyphs" fill="#ff00ff" stroke="#000" stroke-width="0.15">R57</text>
<text transform="matrix(0.0000,1.0000,1.0000,-0.0000,125.20,552.00)" x="0" y="6.00" font-size="17.02" text-anchor="middle" textLength="29.20" lengthAdjust="spacingAndGlyphs" fill="#ff00ff" stroke="#000" stroke-width="0.15">R58</text>
<text transform="matrix(-1.0000,0.0000,0.0000,1.0000,151.45,525.90)" x="0" y="5.80" font-size="16.45" text-anchor="middle" textLength="30.50" lengthAdjust="spacingAndGlyphs" fill="#ff00ff" stroke="#000" stroke-width="0.15">R39</text>
<text transform="matrix(-1.0000,0.0000,0.0000,1.0000,150.20,545.65)" x="0" y="5.75" font-size="16.31" text-anchor="middle" textLength="29.40" lengthAdjust="spacingAndGlyphs" fill="#ff00ff" stroke="#000" stroke-width="0.15">R49</text>
<text transform="matrix(-1.0000,0.0000,0.0000,1.0000,242.75,501.85)" x="0" y="5.45" font-size="15.46" text-anchor="middle" textLength="27.30" lengthAdjust="spacingAndGlyphs" fill="#ff00ff" stroke="#000" stroke-width="0.15">R15</text>
<text transform="matrix(-1.0000,0.0000,0.0000,1.0000,231.50,517.55)" x="0" y="5.65" font-size="16.03" text-anchor="middle" textLength="34.40" lengthAdjust="spacingAndGlyphs" fill="#ff00ff" stroke="#000" stroke-width="0.15">C121</text>
<text transform="matrix(-1.0000,0.0000,0.0000,1.0000,242.40,533.00)" x="0" y="5.50" font-size="15.60" text-anchor="middle" textLength="28.00" lengthAdjust="spacingAndGlyphs" fill="#ff00ff" stroke="#000" stroke-width="0.15">R16</text>
<text transform="matrix(-1.0000,0.0000,0.0000,1.0000,346.30,517.20)" x="0" y="5.30" font-size="15.04" text-anchor="middle" textLength="19.80" lengthAdjust="spacingAndGlyphs" fill="#ff00ff" stroke="#000" stroke-width="0.15">F9</text>
<text transform="matrix(-1.0000,0.0000,0.0000,1.0000,273.10,615.10)" x="0" y="5.50" font-size="15.60" text-anchor="middle" textLength="19.20" lengthAdjust="spacingAndGlyphs" fill="#ff00ff" stroke="#000" stroke-width="0.15">F7</text>
<text transform="matrix(-1.0000,0.0000,0.0000,1.0000,317.00,615.10)" x="0" y="5.50" font-size="15.60" text-anchor="middle" textLength="19.20" lengthAdjust="spacingAndGlyphs" fill="#ff00ff" stroke="#000" stroke-width="0.15">F8</text>
<text transform="matrix(0.0000,1.0000,1.0000,-0.0000,40.50,651.45)" x="0" y="5.90" font-size="16.74" text-anchor="middle" textLength="39.90" lengthAdjust="spacingAndGlyphs" fill="#ff00ff" stroke="#000" stroke-width="0.15">R233</text>
<text transform="matrix(0.0000,1.0000,1.0000,-0.0000,40.50,701.35)" x="0" y="5.90" font-size="16.74" text-anchor="middle" textLength="39.30" lengthAdjust="spacingAndGlyphs" fill="#ff00ff" stroke="#000" stroke-width="0.15">R235</text>
<text transform="matrix(-1.0000,0.0000,0.0000,1.0000,16.05,666.90)" x="0" y="5.40" font-size="15.32" text-anchor="middle" textLength="29.30" lengthAdjust="spacingAndGlyphs" fill="#ff00ff" stroke="#000" stroke-width="0.15">C60</text>
<text transform="matrix(-1.0000,0.0000,0.0000,1.0000,15.30,686.90)" x="0" y="5.40" font-size="15.32" text-anchor="middle" textLength="25.80" lengthAdjust="spacingAndGlyphs" fill="#ff00ff" stroke="#000" stroke-width="0.15">C61</text>
<text transform="matrix(-1.0000,0.0000,0.0000,1.0000,75.25,640.15)" x="0" y="5.55" font-size="15.74" text-anchor="middle" textLength="18.70" lengthAdjust="spacingAndGlyphs" fill="#ff00ff" stroke="#000" stroke-width="0.15">C2</text>
<text transform="matrix(-1.0000,0.0000,0.0000,1.0000,77.35,724.05)" x="0" y="5.65" font-size="16.03" text-anchor="middle" textLength="19.50" lengthAdjust="spacingAndGlyphs" fill="#ff00ff" stroke="#000" stroke-width="0.15">C3</text>
<text transform="matrix(0.0000,1.0000,1.0000,-0.0000,99.90,622.00)" x="0" y="5.90" font-size="16.74" text-anchor="middle" textLength="30.00" lengthAdjust="spacingAndGlyphs" fill="#ff00ff" stroke="#000" stroke-width="0.15">C45</text>
<text transform="matrix(0.0000,1.0000,1.0000,-0.0000,99.90,659.00)" x="0" y="5.90" font-size="16.74" text-anchor="middle" textLength="29.80" lengthAdjust="spacingAndGlyphs" fill="#ff00ff" stroke="#000" stroke-width="0.15">C67</text>
<text transform="matrix(0.0000,1.0000,1.0000,-0.0000,99.90,703.25)" x="0" y="5.90" font-size="16.74" text-anchor="middle" textLength="29.50" lengthAdjust="spacingAndGlyphs" fill="#ff00ff" stroke="#000" stroke-width="0.15">C69</text>
<text transform="matrix(0.0000,1.0000,1.0000,-0.0000,99.90,740.50)" x="0" y="5.90" font-size="16.74" text-anchor="middle" textLength="28.80" lengthAdjust="spacingAndGlyphs" fill="#ff00ff" stroke="#000" stroke-width="0.15">C46</text>
<text transform="matrix(-1.0000,0.0000,0.0000,1.0000,635.70,513.25)" x="0" y="5.35" font-size="15.18" text-anchor="middle" textLength="28.80" lengthAdjust="spacingAndGlyphs" fill="#ff00ff" stroke="#000" stroke-width="0.15">C55</text>
<text transform="matrix(-1.0000,0.0000,0.0000,1.0000,615.75,535.00)" x="0" y="5.40" font-size="15.32" text-anchor="middle" textLength="28.90" lengthAdjust="spacingAndGlyphs" fill="#ff00ff" stroke="#000" stroke-width="0.15">C99</text>
<text transform="matrix(-1.0000,0.0000,0.0000,1.0000,617.70,553.65)" x="0" y="5.35" font-size="15.18" text-anchor="middle" textLength="28.60" lengthAdjust="spacingAndGlyphs" fill="#ff00ff" stroke="#000" stroke-width="0.15">C98</text>
<text transform="matrix(-1.0000,0.0000,0.0000,1.0000,634.70,587.90)" x="0" y="5.50" font-size="15.60" text-anchor="middle" textLength="25.80" lengthAdjust="spacingAndGlyphs" fill="#ff00ff" stroke="#000" stroke-width="0.15">C51</text>
<text transform="matrix(0.0000,1.0000,1.0000,-0.0000,624.75,616.85)" x="0" y="5.45" font-size="15.46" text-anchor="middle" textLength="39.30" lengthAdjust="spacingAndGlyphs" fill="#ff00ff" stroke="#000" stroke-width="0.15">R240</text>
<text transform="matrix(0.0000,1.0000,1.0000,-0.0000,624.75,660.50)" x="0" y="5.45" font-size="15.46" text-anchor="middle" textLength="40.20" lengthAdjust="spacingAndGlyphs" fill="#ff00ff" stroke="#000" stroke-width="0.15">R239</text>
<text transform="matrix(0.0000,1.0000,1.0000,-0.0000,641.80,616.85)" x="0" y="5.50" font-size="15.60" text-anchor="middle" textLength="39.30" lengthAdjust="spacingAndGlyphs" fill="#ff00ff" stroke="#000" stroke-width="0.15">R241</text>
<text transform="matrix(0.0000,1.0000,1.0000,-0.0000,641.80,660.50)" x="0" y="5.50" font-size="15.60" text-anchor="middle" textLength="40.20" lengthAdjust="spacingAndGlyphs" fill="#ff00ff" stroke="#000" stroke-width="0.15">R238</text>
<circle cx="16.8" cy="352.5" r="2.3" fill="#e6e6dc"/><circle cx="16.8" cy="352.5" r="0.8" fill="#8a6a14"/>
<circle cx="31.9" cy="352.5" r="2.3" fill="#e6e6dc"/><circle cx="31.9" cy="352.5" r="0.8" fill="#8a6a14"/>
<circle cx="47.1" cy="352.5" r="2.3" fill="#e6e6dc"/><circle cx="47.1" cy="352.5" r="0.8" fill="#8a6a14"/>
<circle cx="62.2" cy="352.5" r="2.3" fill="#e6e6dc"/><circle cx="62.2" cy="352.5" r="0.8" fill="#8a6a14"/>
<circle cx="1.6" cy="367.6" r="2.3" fill="#e6e6dc"/><circle cx="1.6" cy="367.6" r="0.8" fill="#8a6a14"/>
<circle cx="16.8" cy="367.6" r="2.3" fill="#e6e6dc"/><circle cx="16.8" cy="367.6" r="0.8" fill="#8a6a14"/>
<circle cx="31.9" cy="367.6" r="2.3" fill="#e6e6dc"/><circle cx="31.9" cy="367.6" r="0.8" fill="#8a6a14"/>
<circle cx="47.1" cy="367.6" r="2.3" fill="#e6e6dc"/><circle cx="47.1" cy="367.6" r="0.8" fill="#8a6a14"/>
<circle cx="62.2" cy="367.6" r="2.3" fill="#e6e6dc"/><circle cx="62.2" cy="367.6" r="0.8" fill="#8a6a14"/>
<circle cx="77.3" cy="367.6" r="2.3" fill="#e6e6dc"/><circle cx="77.3" cy="367.6" r="0.8" fill="#8a6a14"/>
<circle cx="1.6" cy="382.8" r="2.3" fill="#e6e6dc"/><circle cx="1.6" cy="382.8" r="0.8" fill="#8a6a14"/>
<circle cx="16.8" cy="382.8" r="2.3" fill="#e6e6dc"/><circle cx="16.8" cy="382.8" r="0.8" fill="#8a6a14"/>
<circle cx="31.9" cy="382.8" r="2.3" fill="#e6e6dc"/><circle cx="31.9" cy="382.8" r="0.8" fill="#8a6a14"/>
<circle cx="47.1" cy="382.8" r="2.3" fill="#e6e6dc"/><circle cx="47.1" cy="382.8" r="0.8" fill="#8a6a14"/>
<circle cx="62.2" cy="382.8" r="2.3" fill="#e6e6dc"/><circle cx="62.2" cy="382.8" r="0.8" fill="#8a6a14"/>
<circle cx="77.3" cy="382.8" r="2.3" fill="#e6e6dc"/><circle cx="77.3" cy="382.8" r="0.8" fill="#8a6a14"/>
<circle cx="1.6" cy="397.9" r="2.3" fill="#e6e6dc"/><circle cx="1.6" cy="397.9" r="0.8" fill="#8a6a14"/>
<circle cx="16.8" cy="397.9" r="2.3" fill="#e6e6dc"/><circle cx="16.8" cy="397.9" r="0.8" fill="#8a6a14"/>
<circle cx="31.9" cy="397.9" r="2.3" fill="#e6e6dc"/><circle cx="31.9" cy="397.9" r="0.8" fill="#8a6a14"/>
<circle cx="47.1" cy="397.9" r="2.3" fill="#e6e6dc"/><circle cx="47.1" cy="397.9" r="0.8" fill="#8a6a14"/>
<circle cx="62.2" cy="397.9" r="2.3" fill="#e6e6dc"/><circle cx="62.2" cy="397.9" r="0.8" fill="#8a6a14"/>
<circle cx="77.3" cy="397.9" r="2.3" fill="#e6e6dc"/><circle cx="77.3" cy="397.9" r="0.8" fill="#8a6a14"/>
<circle cx="1.6" cy="413.1" r="2.3" fill="#e6e6dc"/><circle cx="1.6" cy="413.1" r="0.8" fill="#8a6a14"/>
<circle cx="16.8" cy="413.1" r="2.3" fill="#e6e6dc"/><circle cx="16.8" cy="413.1" r="0.8" fill="#8a6a14"/>
<circle cx="31.9" cy="413.1" r="2.3" fill="#e6e6dc"/><circle cx="31.9" cy="413.1" r="0.8" fill="#8a6a14"/>
<circle cx="47.1" cy="413.1" r="2.3" fill="#e6e6dc"/><circle cx="47.1" cy="413.1" r="0.8" fill="#8a6a14"/>
<circle cx="62.2" cy="413.1" r="2.3" fill="#e6e6dc"/><circle cx="62.2" cy="413.1" r="0.8" fill="#8a6a14"/>
<circle cx="77.3" cy="413.1" r="2.3" fill="#e6e6dc"/><circle cx="77.3" cy="413.1" r="0.8" fill="#8a6a14"/>
<circle cx="16.8" cy="428.2" r="2.3" fill="#e6e6dc"/><circle cx="16.8" cy="428.2" r="0.8" fill="#8a6a14"/>
<circle cx="31.9" cy="428.2" r="2.3" fill="#e6e6dc"/><circle cx="31.9" cy="428.2" r="0.8" fill="#8a6a14"/>
<circle cx="47.1" cy="428.2" r="2.3" fill="#e6e6dc"/><circle cx="47.1" cy="428.2" r="0.8" fill="#8a6a14"/>
<circle cx="62.2" cy="428.2" r="2.3" fill="#e6e6dc"/><circle cx="62.2" cy="428.2" r="0.8" fill="#8a6a14"/>
<circle cx="21.5" cy="318.8" r="2.3" fill="#e6e6dc"/><circle cx="21.5" cy="318.8" r="0.8" fill="#8a6a14"/>
<circle cx="29.8" cy="318.8" r="2.3" fill="#e6e6dc"/><circle cx="29.8" cy="318.8" r="0.8" fill="#8a6a14"/>
<circle cx="72.1" cy="318.8" r="2.3" fill="#e6e6dc"/><circle cx="72.1" cy="318.8" r="0.8" fill="#8a6a14"/>
<circle cx="82.0" cy="318.8" r="2.3" fill="#e6e6dc"/><circle cx="82.0" cy="318.8" r="0.8" fill="#8a6a14"/>
<circle cx="53.8" cy="322.4" r="2.3" fill="#e6e6dc"/><circle cx="53.8" cy="322.4" r="0.8" fill="#8a6a14"/>
<circle cx="31.3" cy="444.9" r="2.3" fill="#e6e6dc"/><circle cx="31.3" cy="444.9" r="0.8" fill="#8a6a14"/>
<circle cx="59.4" cy="445.0" r="2.3" fill="#e6e6dc"/><circle cx="59.4" cy="445.0" r="0.8" fill="#8a6a14"/>
<circle cx="75.2" cy="472.3" r="2.3" fill="#e6e6dc"/><circle cx="75.2" cy="472.3" r="0.8" fill="#8a6a14"/>
<circle cx="80.3" cy="463.4" r="2.3" fill="#e6e6dc"/><circle cx="80.3" cy="463.4" r="0.8" fill="#8a6a14"/>
<circle cx="79.5" cy="451.8" r="2.3" fill="#e6e6dc"/><circle cx="79.5" cy="451.8" r="0.8" fill="#8a6a14"/>
<circle cx="87.0" cy="440.0" r="2.3" fill="#e6e6dc"/><circle cx="87.0" cy="440.0" r="0.8" fill="#8a6a14"/>
<circle cx="10.6" cy="449.2" r="2.3" fill="#e6e6dc"/><circle cx="10.6" cy="449.2" r="0.8" fill="#8a6a14"/>
<circle cx="59.5" cy="461.4" r="2.3" fill="#e6e6dc"/><circle cx="59.5" cy="461.4" r="0.8" fill="#8a6a14"/>
<circle cx="93.4" cy="451.4" r="2.3" fill="#e6e6dc"/><circle cx="93.4" cy="451.4" r="0.8" fill="#8a6a14"/>
<circle cx="102.3" cy="451.4" r="2.3" fill="#e6e6dc"/><circle cx="102.3" cy="451.4" r="0.8" fill="#8a6a14"/>
<circle cx="107.0" cy="341.1" r="2.3" fill="#e6e6dc"/><circle cx="107.0" cy="341.1" r="0.8" fill="#8a6a14"/>
<circle cx="107.0" cy="360.9" r="2.3" fill="#e6e6dc"/><circle cx="107.0" cy="360.9" r="0.8" fill="#8a6a14"/>
<circle cx="107.0" cy="408.6" r="2.3" fill="#e6e6dc"/><circle cx="107.0" cy="408.6" r="0.8" fill="#8a6a14"/>
<circle cx="107.0" cy="428.4" r="2.3" fill="#e6e6dc"/><circle cx="107.0" cy="428.4" r="0.8" fill="#8a6a14"/>
<circle cx="96.5" cy="368.9" r="2.3" fill="#e6e6dc"/><circle cx="96.5" cy="368.9" r="0.8" fill="#8a6a14"/>
<circle cx="96.5" cy="377.8" r="2.3" fill="#e6e6dc"/><circle cx="96.5" cy="377.8" r="0.8" fill="#8a6a14"/>
<circle cx="111.3" cy="389.1" r="2.3" fill="#e6e6dc"/><circle cx="111.3" cy="389.1" r="0.8" fill="#8a6a14"/>
<circle cx="94.6" cy="399.0" r="2.3" fill="#e6e6dc"/><circle cx="94.6" cy="399.0" r="0.8" fill="#8a6a14"/>
<circle cx="103.0" cy="400.8" r="2.3" fill="#e6e6dc"/><circle cx="103.0" cy="400.8" r="0.8" fill="#8a6a14"/>
<circle cx="94.6" cy="410.3" r="2.3" fill="#e6e6dc"/><circle cx="94.6" cy="410.3" r="0.8" fill="#8a6a14"/>
<circle cx="126.2" cy="398.2" r="2.3" fill="#e6e6dc"/><circle cx="126.2" cy="398.2" r="0.8" fill="#8a6a14"/>
<circle cx="181.0" cy="367.0" r="2.3" fill="#e6e6dc"/><circle cx="181.0" cy="367.0" r="0.8" fill="#8a6a14"/>
<circle cx="181.0" cy="373.4" r="2.3" fill="#e6e6dc"/><circle cx="181.0" cy="373.4" r="0.8" fill="#8a6a14"/>
<circle cx="181.0" cy="379.8" r="2.3" fill="#e6e6dc"/><circle cx="181.0" cy="379.8" r="0.8" fill="#8a6a14"/>
<circle cx="167.0" cy="402.9" r="2.3" fill="#e6e6dc"/><circle cx="167.0" cy="402.9" r="0.8" fill="#8a6a14"/>
<circle cx="181.0" cy="402.9" r="2.3" fill="#e6e6dc"/><circle cx="181.0" cy="402.9" r="0.8" fill="#8a6a14"/>
<circle cx="167.0" cy="409.2" r="2.3" fill="#e6e6dc"/><circle cx="167.0" cy="409.2" r="0.8" fill="#8a6a14"/>
<circle cx="181.0" cy="409.2" r="2.3" fill="#e6e6dc"/><circle cx="181.0" cy="409.2" r="0.8" fill="#8a6a14"/>
<circle cx="167.0" cy="415.4" r="2.3" fill="#e6e6dc"/><circle cx="167.0" cy="415.4" r="0.8" fill="#8a6a14"/>
<circle cx="181.0" cy="415.4" r="2.3" fill="#e6e6dc"/><circle cx="181.0" cy="415.4" r="0.8" fill="#8a6a14"/>
<circle cx="160.1" cy="343.2" r="2.3" fill="#e6e6dc"/><circle cx="160.1" cy="343.2" r="0.8" fill="#8a6a14"/>
<circle cx="173.6" cy="343.2" r="2.3" fill="#e6e6dc"/><circle cx="173.6" cy="343.2" r="0.8" fill="#8a6a14"/>
<circle cx="160.1" cy="358.2" r="2.3" fill="#e6e6dc"/><circle cx="160.1" cy="358.2" r="0.8" fill="#8a6a14"/>
<circle cx="173.6" cy="358.2" r="2.3" fill="#e6e6dc"/><circle cx="173.6" cy="358.2" r="0.8" fill="#8a6a14"/>
<circle cx="166.9" cy="350.3" r="2.3" fill="#e6e6dc"/><circle cx="166.9" cy="350.3" r="0.8" fill="#8a6a14"/>
<circle cx="204.7" cy="370.8" r="2.3" fill="#e6e6dc"/><circle cx="204.7" cy="370.8" r="0.8" fill="#8a6a14"/>
<circle cx="212.6" cy="370.8" r="2.3" fill="#e6e6dc"/><circle cx="212.6" cy="370.8" r="0.8" fill="#8a6a14"/>
<circle cx="220.5" cy="370.8" r="2.3" fill="#e6e6dc"/><circle cx="220.5" cy="370.8" r="0.8" fill="#8a6a14"/>
<circle cx="204.7" cy="411.2" r="2.3" fill="#e6e6dc"/><circle cx="204.7" cy="411.2" r="0.8" fill="#8a6a14"/>
<circle cx="212.6" cy="411.2" r="2.3" fill="#e6e6dc"/><circle cx="212.6" cy="411.2" r="0.8" fill="#8a6a14"/>
<circle cx="220.5" cy="411.2" r="2.3" fill="#e6e6dc"/><circle cx="220.5" cy="411.2" r="0.8" fill="#8a6a14"/>
<circle cx="205.2" cy="423.5" r="2.3" fill="#e6e6dc"/><circle cx="205.2" cy="423.5" r="0.8" fill="#8a6a14"/>
<circle cx="213.3" cy="423.5" r="2.3" fill="#e6e6dc"/><circle cx="213.3" cy="423.5" r="0.8" fill="#8a6a14"/>
<circle cx="221.4" cy="423.5" r="2.3" fill="#e6e6dc"/><circle cx="221.4" cy="423.5" r="0.8" fill="#8a6a14"/>
<circle cx="205.2" cy="451.7" r="2.3" fill="#e6e6dc"/><circle cx="205.2" cy="451.7" r="0.8" fill="#8a6a14"/>
<circle cx="213.3" cy="451.7" r="2.3" fill="#e6e6dc"/><circle cx="213.3" cy="451.7" r="0.8" fill="#8a6a14"/>
<circle cx="221.4" cy="451.7" r="2.3" fill="#e6e6dc"/><circle cx="221.4" cy="451.7" r="0.8" fill="#8a6a14"/>
<circle cx="234.4" cy="349.6" r="2.3" fill="#e6e6dc"/><circle cx="234.4" cy="349.6" r="0.8" fill="#8a6a14"/>
<circle cx="246.6" cy="349.6" r="2.3" fill="#e6e6dc"/><circle cx="246.6" cy="349.6" r="0.8" fill="#8a6a14"/>
<circle cx="234.4" cy="379.3" r="2.3" fill="#e6e6dc"/><circle cx="234.4" cy="379.3" r="0.8" fill="#8a6a14"/>
<circle cx="246.6" cy="379.3" r="2.3" fill="#e6e6dc"/><circle cx="246.6" cy="379.3" r="0.8" fill="#8a6a14"/>
<circle cx="261.5" cy="341.5" r="2.3" fill="#e6e6dc"/><circle cx="261.5" cy="341.5" r="0.8" fill="#8a6a14"/>
<circle cx="288.6" cy="341.5" r="2.3" fill="#e6e6dc"/><circle cx="288.6" cy="341.5" r="0.8" fill="#8a6a14"/>
<circle cx="297.6" cy="341.5" r="2.3" fill="#e6e6dc"/><circle cx="297.6" cy="341.5" r="0.8" fill="#8a6a14"/>
<circle cx="324.7" cy="341.5" r="2.3" fill="#e6e6dc"/><circle cx="324.7" cy="341.5" r="0.8" fill="#8a6a14"/>
<circle cx="333.7" cy="341.5" r="2.3" fill="#e6e6dc"/><circle cx="333.7" cy="341.5" r="0.8" fill="#8a6a14"/>
<circle cx="342.8" cy="341.5" r="2.3" fill="#e6e6dc"/><circle cx="342.8" cy="341.5" r="0.8" fill="#8a6a14"/>
<circle cx="351.8" cy="341.5" r="2.3" fill="#e6e6dc"/><circle cx="351.8" cy="341.5" r="0.8" fill="#8a6a14"/>
<circle cx="360.8" cy="341.5" r="2.3" fill="#e6e6dc"/><circle cx="360.8" cy="341.5" r="0.8" fill="#8a6a14"/>
<circle cx="261.5" cy="350.5" r="2.3" fill="#e6e6dc"/><circle cx="261.5" cy="350.5" r="0.8" fill="#8a6a14"/>
<circle cx="270.5" cy="350.5" r="2.3" fill="#e6e6dc"/><circle cx="270.5" cy="350.5" r="0.8" fill="#8a6a14"/>
<circle cx="279.6" cy="350.5" r="2.3" fill="#e6e6dc"/><circle cx="279.6" cy="350.5" r="0.8" fill="#8a6a14"/>
<circle cx="288.6" cy="350.5" r="2.3" fill="#e6e6dc"/><circle cx="288.6" cy="350.5" r="0.8" fill="#8a6a14"/>
<circle cx="297.6" cy="350.5" r="2.3" fill="#e6e6dc"/><circle cx="297.6" cy="350.5" r="0.8" fill="#8a6a14"/>
<circle cx="306.6" cy="350.5" r="2.3" fill="#e6e6dc"/><circle cx="306.6" cy="350.5" r="0.8" fill="#8a6a14"/>
<circle cx="315.7" cy="350.5" r="2.3" fill="#e6e6dc"/><circle cx="315.7" cy="350.5" r="0.8" fill="#8a6a14"/>
<circle cx="324.7" cy="350.5" r="2.3" fill="#e6e6dc"/><circle cx="324.7" cy="350.5" r="0.8" fill="#8a6a14"/>
<circle cx="333.7" cy="350.5" r="2.3" fill="#e6e6dc"/><circle cx="333.7" cy="350.5" r="0.8" fill="#8a6a14"/>
<circle cx="342.8" cy="350.5" r="2.3" fill="#e6e6dc"/><circle cx="342.8" cy="350.5" r="0.8" fill="#8a6a14"/>
<circle cx="351.8" cy="350.5" r="2.3" fill="#e6e6dc"/><circle cx="351.8" cy="350.5" r="0.8" fill="#8a6a14"/>
<circle cx="360.8" cy="350.5" r="2.3" fill="#e6e6dc"/><circle cx="360.8" cy="350.5" r="0.8" fill="#8a6a14"/>
<circle cx="270.5" cy="359.6" r="2.3" fill="#e6e6dc"/><circle cx="270.5" cy="359.6" r="0.8" fill="#8a6a14"/>
<circle cx="279.6" cy="359.6" r="2.3" fill="#e6e6dc"/><circle cx="279.6" cy="359.6" r="0.8" fill="#8a6a14"/>
<circle cx="288.6" cy="359.6" r="2.3" fill="#e6e6dc"/><circle cx="288.6" cy="359.6" r="0.8" fill="#8a6a14"/>
<circle cx="297.6" cy="359.6" r="2.3" fill="#e6e6dc"/><circle cx="297.6" cy="359.6" r="0.8" fill="#8a6a14"/>
<circle cx="306.6" cy="359.6" r="2.3" fill="#e6e6dc"/><circle cx="306.6" cy="359.6" r="0.8" fill="#8a6a14"/>
<circle cx="315.7" cy="359.6" r="2.3" fill="#e6e6dc"/><circle cx="315.7" cy="359.6" r="0.8" fill="#8a6a14"/>
<circle cx="324.7" cy="359.6" r="2.3" fill="#e6e6dc"/><circle cx="324.7" cy="359.6" r="0.8" fill="#8a6a14"/>
<circle cx="333.7" cy="359.6" r="2.3" fill="#e6e6dc"/><circle cx="333.7" cy="359.6" r="0.8" fill="#8a6a14"/>
<circle cx="342.8" cy="359.6" r="2.3" fill="#e6e6dc"/><circle cx="342.8" cy="359.6" r="0.8" fill="#8a6a14"/>
<circle cx="351.8" cy="359.6" r="2.3" fill="#e6e6dc"/><circle cx="351.8" cy="359.6" r="0.8" fill="#8a6a14"/>
<circle cx="270.5" cy="368.6" r="2.3" fill="#e6e6dc"/><circle cx="270.5" cy="368.6" r="0.8" fill="#8a6a14"/>
<circle cx="279.6" cy="368.6" r="2.3" fill="#e6e6dc"/><circle cx="279.6" cy="368.6" r="0.8" fill="#8a6a14"/>
<circle cx="288.6" cy="368.6" r="2.3" fill="#e6e6dc"/><circle cx="288.6" cy="368.6" r="0.8" fill="#8a6a14"/>
<circle cx="297.6" cy="368.6" r="2.3" fill="#e6e6dc"/><circle cx="297.6" cy="368.6" r="0.8" fill="#8a6a14"/>
<circle cx="306.6" cy="368.6" r="2.3" fill="#e6e6dc"/><circle cx="306.6" cy="368.6" r="0.8" fill="#8a6a14"/>
<circle cx="315.7" cy="368.6" r="2.3" fill="#e6e6dc"/><circle cx="315.7" cy="368.6" r="0.8" fill="#8a6a14"/>
<circle cx="324.7" cy="368.6" r="2.3" fill="#e6e6dc"/><circle cx="324.7" cy="368.6" r="0.8" fill="#8a6a14"/>
<circle cx="333.7" cy="368.6" r="2.3" fill="#e6e6dc"/><circle cx="333.7" cy="368.6" r="0.8" fill="#8a6a14"/>
<circle cx="342.8" cy="368.6" r="2.3" fill="#e6e6dc"/><circle cx="342.8" cy="368.6" r="0.8" fill="#8a6a14"/>
<circle cx="351.8" cy="368.6" r="2.3" fill="#e6e6dc"/><circle cx="351.8" cy="368.6" r="0.8" fill="#8a6a14"/>
<circle cx="261.5" cy="377.7" r="2.3" fill="#e6e6dc"/><circle cx="261.5" cy="377.7" r="0.8" fill="#8a6a14"/>
<circle cx="270.5" cy="377.7" r="2.3" fill="#e6e6dc"/><circle cx="270.5" cy="377.7" r="0.8" fill="#8a6a14"/>
<circle cx="279.6" cy="377.7" r="2.3" fill="#e6e6dc"/><circle cx="279.6" cy="377.7" r="0.8" fill="#8a6a14"/>
<circle cx="288.6" cy="377.7" r="2.3" fill="#e6e6dc"/><circle cx="288.6" cy="377.7" r="0.8" fill="#8a6a14"/>
<circle cx="297.6" cy="377.7" r="2.3" fill="#e6e6dc"/><circle cx="297.6" cy="377.7" r="0.8" fill="#8a6a14"/>
<circle cx="306.6" cy="377.7" r="2.3" fill="#e6e6dc"/><circle cx="306.6" cy="377.7" r="0.8" fill="#8a6a14"/>
<circle cx="315.7" cy="377.7" r="2.3" fill="#e6e6dc"/><circle cx="315.7" cy="377.7" r="0.8" fill="#8a6a14"/>
<circle cx="324.7" cy="377.7" r="2.3" fill="#e6e6dc"/><circle cx="324.7" cy="377.7" r="0.8" fill="#8a6a14"/>
<circle cx="333.7" cy="377.7" r="2.3" fill="#e6e6dc"/><circle cx="333.7" cy="377.7" r="0.8" fill="#8a6a14"/>
<circle cx="342.8" cy="377.7" r="2.3" fill="#e6e6dc"/><circle cx="342.8" cy="377.7" r="0.8" fill="#8a6a14"/>
<circle cx="351.8" cy="377.7" r="2.3" fill="#e6e6dc"/><circle cx="351.8" cy="377.7" r="0.8" fill="#8a6a14"/>
<circle cx="261.5" cy="386.7" r="2.3" fill="#e6e6dc"/><circle cx="261.5" cy="386.7" r="0.8" fill="#8a6a14"/>
<circle cx="270.5" cy="386.7" r="2.3" fill="#e6e6dc"/><circle cx="270.5" cy="386.7" r="0.8" fill="#8a6a14"/>
<circle cx="279.6" cy="386.7" r="2.3" fill="#e6e6dc"/><circle cx="279.6" cy="386.7" r="0.8" fill="#8a6a14"/>
<circle cx="288.6" cy="386.7" r="2.3" fill="#e6e6dc"/><circle cx="288.6" cy="386.7" r="0.8" fill="#8a6a14"/>
<circle cx="297.6" cy="386.7" r="2.3" fill="#e6e6dc"/><circle cx="297.6" cy="386.7" r="0.8" fill="#8a6a14"/>
<circle cx="306.6" cy="386.7" r="2.3" fill="#e6e6dc"/><circle cx="306.6" cy="386.7" r="0.8" fill="#8a6a14"/>
<circle cx="315.7" cy="386.7" r="2.3" fill="#e6e6dc"/><circle cx="315.7" cy="386.7" r="0.8" fill="#8a6a14"/>
<circle cx="324.7" cy="386.7" r="2.3" fill="#e6e6dc"/><circle cx="324.7" cy="386.7" r="0.8" fill="#8a6a14"/>
<circle cx="333.7" cy="386.7" r="2.3" fill="#e6e6dc"/><circle cx="333.7" cy="386.7" r="0.8" fill="#8a6a14"/>
<circle cx="342.8" cy="386.7" r="2.3" fill="#e6e6dc"/><circle cx="342.8" cy="386.7" r="0.8" fill="#8a6a14"/>
<circle cx="351.8" cy="386.7" r="2.3" fill="#e6e6dc"/><circle cx="351.8" cy="386.7" r="0.8" fill="#8a6a14"/>
<circle cx="261.5" cy="395.8" r="2.3" fill="#e6e6dc"/><circle cx="261.5" cy="395.8" r="0.8" fill="#8a6a14"/>
<circle cx="270.5" cy="395.8" r="2.3" fill="#e6e6dc"/><circle cx="270.5" cy="395.8" r="0.8" fill="#8a6a14"/>
<circle cx="279.6" cy="395.8" r="2.3" fill="#e6e6dc"/><circle cx="279.6" cy="395.8" r="0.8" fill="#8a6a14"/>
<circle cx="288.6" cy="395.8" r="2.3" fill="#e6e6dc"/><circle cx="288.6" cy="395.8" r="0.8" fill="#8a6a14"/>
<circle cx="297.6" cy="395.8" r="2.3" fill="#e6e6dc"/><circle cx="297.6" cy="395.8" r="0.8" fill="#8a6a14"/>
<circle cx="306.6" cy="395.8" r="2.3" fill="#e6e6dc"/><circle cx="306.6" cy="395.8" r="0.8" fill="#8a6a14"/>
<circle cx="315.7" cy="395.8" r="2.3" fill="#e6e6dc"/><circle cx="315.7" cy="395.8" r="0.8" fill="#8a6a14"/>
<circle cx="324.7" cy="395.8" r="2.3" fill="#e6e6dc"/><circle cx="324.7" cy="395.8" r="0.8" fill="#8a6a14"/>
<circle cx="333.7" cy="395.8" r="2.3" fill="#e6e6dc"/><circle cx="333.7" cy="395.8" r="0.8" fill="#8a6a14"/>
<circle cx="342.8" cy="395.8" r="2.3" fill="#e6e6dc"/><circle cx="342.8" cy="395.8" r="0.8" fill="#8a6a14"/>
<circle cx="351.8" cy="395.8" r="2.3" fill="#e6e6dc"/><circle cx="351.8" cy="395.8" r="0.8" fill="#8a6a14"/>
<circle cx="261.5" cy="404.8" r="2.3" fill="#e6e6dc"/><circle cx="261.5" cy="404.8" r="0.8" fill="#8a6a14"/>
<circle cx="270.5" cy="404.8" r="2.3" fill="#e6e6dc"/><circle cx="270.5" cy="404.8" r="0.8" fill="#8a6a14"/>
<circle cx="279.6" cy="404.8" r="2.3" fill="#e6e6dc"/><circle cx="279.6" cy="404.8" r="0.8" fill="#8a6a14"/>
<circle cx="288.6" cy="404.8" r="2.3" fill="#e6e6dc"/><circle cx="288.6" cy="404.8" r="0.8" fill="#8a6a14"/>
<circle cx="297.6" cy="404.8" r="2.3" fill="#e6e6dc"/><circle cx="297.6" cy="404.8" r="0.8" fill="#8a6a14"/>
<circle cx="306.6" cy="404.8" r="2.3" fill="#e6e6dc"/><circle cx="306.6" cy="404.8" r="0.8" fill="#8a6a14"/>
<circle cx="315.7" cy="404.8" r="2.3" fill="#e6e6dc"/><circle cx="315.7" cy="404.8" r="0.8" fill="#8a6a14"/>
<circle cx="324.7" cy="404.8" r="2.3" fill="#e6e6dc"/><circle cx="324.7" cy="404.8" r="0.8" fill="#8a6a14"/>
<circle cx="333.7" cy="404.8" r="2.3" fill="#e6e6dc"/><circle cx="333.7" cy="404.8" r="0.8" fill="#8a6a14"/>
<circle cx="342.8" cy="404.8" r="2.3" fill="#e6e6dc"/><circle cx="342.8" cy="404.8" r="0.8" fill="#8a6a14"/>
<circle cx="351.8" cy="404.8" r="2.3" fill="#e6e6dc"/><circle cx="351.8" cy="404.8" r="0.8" fill="#8a6a14"/>
<circle cx="261.5" cy="413.9" r="2.3" fill="#e6e6dc"/><circle cx="261.5" cy="413.9" r="0.8" fill="#8a6a14"/>
<circle cx="270.5" cy="413.9" r="2.3" fill="#e6e6dc"/><circle cx="270.5" cy="413.9" r="0.8" fill="#8a6a14"/>
<circle cx="279.6" cy="413.9" r="2.3" fill="#e6e6dc"/><circle cx="279.6" cy="413.9" r="0.8" fill="#8a6a14"/>
<circle cx="288.6" cy="413.9" r="2.3" fill="#e6e6dc"/><circle cx="288.6" cy="413.9" r="0.8" fill="#8a6a14"/>
<circle cx="297.6" cy="413.9" r="2.3" fill="#e6e6dc"/><circle cx="297.6" cy="413.9" r="0.8" fill="#8a6a14"/>
<circle cx="306.6" cy="413.9" r="2.3" fill="#e6e6dc"/><circle cx="306.6" cy="413.9" r="0.8" fill="#8a6a14"/>
<circle cx="315.7" cy="413.9" r="2.3" fill="#e6e6dc"/><circle cx="315.7" cy="413.9" r="0.8" fill="#8a6a14"/>
<circle cx="324.7" cy="413.9" r="2.3" fill="#e6e6dc"/><circle cx="324.7" cy="413.9" r="0.8" fill="#8a6a14"/>
<circle cx="333.7" cy="413.9" r="2.3" fill="#e6e6dc"/><circle cx="333.7" cy="413.9" r="0.8" fill="#8a6a14"/>
<circle cx="342.8" cy="413.9" r="2.3" fill="#e6e6dc"/><circle cx="342.8" cy="413.9" r="0.8" fill="#8a6a14"/>
<circle cx="351.8" cy="413.9" r="2.3" fill="#e6e6dc"/><circle cx="351.8" cy="413.9" r="0.8" fill="#8a6a14"/>
<circle cx="261.5" cy="422.9" r="2.3" fill="#e6e6dc"/><circle cx="261.5" cy="422.9" r="0.8" fill="#8a6a14"/>
<circle cx="270.5" cy="422.9" r="2.3" fill="#e6e6dc"/><circle cx="270.5" cy="422.9" r="0.8" fill="#8a6a14"/>
<circle cx="279.6" cy="422.9" r="2.3" fill="#e6e6dc"/><circle cx="279.6" cy="422.9" r="0.8" fill="#8a6a14"/>
<circle cx="288.6" cy="422.9" r="2.3" fill="#e6e6dc"/><circle cx="288.6" cy="422.9" r="0.8" fill="#8a6a14"/>
<circle cx="297.6" cy="422.9" r="2.3" fill="#e6e6dc"/><circle cx="297.6" cy="422.9" r="0.8" fill="#8a6a14"/>
<circle cx="306.6" cy="422.9" r="2.3" fill="#e6e6dc"/><circle cx="306.6" cy="422.9" r="0.8" fill="#8a6a14"/>
<circle cx="315.7" cy="422.9" r="2.3" fill="#e6e6dc"/><circle cx="315.7" cy="422.9" r="0.8" fill="#8a6a14"/>
<circle cx="324.7" cy="422.9" r="2.3" fill="#e6e6dc"/><circle cx="324.7" cy="422.9" r="0.8" fill="#8a6a14"/>
<circle cx="333.7" cy="422.9" r="2.3" fill="#e6e6dc"/><circle cx="333.7" cy="422.9" r="0.8" fill="#8a6a14"/>
<circle cx="342.8" cy="422.9" r="2.3" fill="#e6e6dc"/><circle cx="342.8" cy="422.9" r="0.8" fill="#8a6a14"/>
<circle cx="351.8" cy="422.9" r="2.3" fill="#e6e6dc"/><circle cx="351.8" cy="422.9" r="0.8" fill="#8a6a14"/>
<circle cx="261.5" cy="431.9" r="2.3" fill="#e6e6dc"/><circle cx="261.5" cy="431.9" r="0.8" fill="#8a6a14"/>
<circle cx="270.5" cy="431.9" r="2.3" fill="#e6e6dc"/><circle cx="270.5" cy="431.9" r="0.8" fill="#8a6a14"/>
<circle cx="279.6" cy="431.9" r="2.3" fill="#e6e6dc"/><circle cx="279.6" cy="431.9" r="0.8" fill="#8a6a14"/>
<circle cx="288.6" cy="431.9" r="2.3" fill="#e6e6dc"/><circle cx="288.6" cy="431.9" r="0.8" fill="#8a6a14"/>
<circle cx="297.6" cy="431.9" r="2.3" fill="#e6e6dc"/><circle cx="297.6" cy="431.9" r="0.8" fill="#8a6a14"/>
<circle cx="306.6" cy="431.9" r="2.3" fill="#e6e6dc"/><circle cx="306.6" cy="431.9" r="0.8" fill="#8a6a14"/>
<circle cx="315.7" cy="431.9" r="2.3" fill="#e6e6dc"/><circle cx="315.7" cy="431.9" r="0.8" fill="#8a6a14"/>
<circle cx="324.7" cy="431.9" r="2.3" fill="#e6e6dc"/><circle cx="324.7" cy="431.9" r="0.8" fill="#8a6a14"/>
<circle cx="333.7" cy="431.9" r="2.3" fill="#e6e6dc"/><circle cx="333.7" cy="431.9" r="0.8" fill="#8a6a14"/>
<circle cx="342.8" cy="431.9" r="2.3" fill="#e6e6dc"/><circle cx="342.8" cy="431.9" r="0.8" fill="#8a6a14"/>
<circle cx="351.8" cy="431.9" r="2.3" fill="#e6e6dc"/><circle cx="351.8" cy="431.9" r="0.8" fill="#8a6a14"/>
<circle cx="360.8" cy="431.9" r="2.3" fill="#e6e6dc"/><circle cx="360.8" cy="431.9" r="0.8" fill="#8a6a14"/>
<circle cx="261.5" cy="441.0" r="2.3" fill="#e6e6dc"/><circle cx="261.5" cy="441.0" r="0.8" fill="#8a6a14"/>
<circle cx="288.6" cy="441.0" r="2.3" fill="#e6e6dc"/><circle cx="288.6" cy="441.0" r="0.8" fill="#8a6a14"/>
<circle cx="297.6" cy="441.0" r="2.3" fill="#e6e6dc"/><circle cx="297.6" cy="441.0" r="0.8" fill="#8a6a14"/>
<circle cx="324.7" cy="441.0" r="2.3" fill="#e6e6dc"/><circle cx="324.7" cy="441.0" r="0.8" fill="#8a6a14"/>
<circle cx="333.7" cy="441.0" r="2.3" fill="#e6e6dc"/><circle cx="333.7" cy="441.0" r="0.8" fill="#8a6a14"/>
<circle cx="342.8" cy="441.0" r="2.3" fill="#e6e6dc"/><circle cx="342.8" cy="441.0" r="0.8" fill="#8a6a14"/>
<circle cx="351.8" cy="441.0" r="2.3" fill="#e6e6dc"/><circle cx="351.8" cy="441.0" r="0.8" fill="#8a6a14"/>
<circle cx="360.8" cy="441.0" r="2.3" fill="#e6e6dc"/><circle cx="360.8" cy="441.0" r="0.8" fill="#8a6a14"/>
<circle cx="297.0" cy="509.8" r="2.3" fill="#e6e6dc"/><circle cx="297.0" cy="509.8" r="0.8" fill="#8a6a14"/>
<circle cx="297.0" cy="524.6" r="2.3" fill="#e6e6dc"/><circle cx="297.0" cy="524.6" r="0.8" fill="#8a6a14"/>
<circle cx="316.1" cy="517.2" r="2.3" fill="#e6e6dc"/><circle cx="316.1" cy="517.2" r="0.8" fill="#8a6a14"/>
<circle cx="273.7" cy="554.7" r="2.3" fill="#e6e6dc"/><circle cx="273.7" cy="554.7" r="0.8" fill="#8a6a14"/>
<circle cx="273.7" cy="593.6" r="2.3" fill="#e6e6dc"/><circle cx="273.7" cy="593.6" r="0.8" fill="#8a6a14"/>
<circle cx="266.3" cy="574.3" r="2.3" fill="#e6e6dc"/><circle cx="266.3" cy="574.3" r="0.8" fill="#8a6a14"/>
<circle cx="281.2" cy="574.3" r="2.3" fill="#e6e6dc"/><circle cx="281.2" cy="574.3" r="0.8" fill="#8a6a14"/>
<circle cx="273.7" cy="605.2" r="2.3" fill="#e6e6dc"/><circle cx="273.7" cy="605.2" r="0.8" fill="#8a6a14"/>
<circle cx="315.7" cy="554.7" r="2.3" fill="#e6e6dc"/><circle cx="315.7" cy="554.7" r="0.8" fill="#8a6a14"/>
<circle cx="315.7" cy="593.6" r="2.3" fill="#e6e6dc"/><circle cx="315.7" cy="593.6" r="0.8" fill="#8a6a14"/>
<circle cx="308.3" cy="574.3" r="2.3" fill="#e6e6dc"/><circle cx="308.3" cy="574.3" r="0.8" fill="#8a6a14"/>
<circle cx="323.2" cy="574.3" r="2.3" fill="#e6e6dc"/><circle cx="323.2" cy="574.3" r="0.8" fill="#8a6a14"/>
<circle cx="315.7" cy="605.2" r="2.3" fill="#e6e6dc"/><circle cx="315.7" cy="605.2" r="0.8" fill="#8a6a14"/>
<circle cx="260.8" cy="504.3" r="2.3" fill="#e6e6dc"/><circle cx="260.8" cy="504.3" r="0.8" fill="#8a6a14"/>
<circle cx="252.5" cy="517.4" r="2.3" fill="#e6e6dc"/><circle cx="252.5" cy="517.4" r="0.8" fill="#8a6a14"/>
<circle cx="260.8" cy="530.6" r="2.3" fill="#e6e6dc"/><circle cx="260.8" cy="530.6" r="0.8" fill="#8a6a14"/>
<circle cx="375.0" cy="549.9" r="2.3" fill="#e6e6dc"/><circle cx="375.0" cy="549.9" r="0.8" fill="#8a6a14"/>
<circle cx="156.3" cy="208.4" r="2.3" fill="#e6e6dc"/><circle cx="156.3" cy="208.4" r="0.8" fill="#8a6a14"/>
<circle cx="160.8" cy="213.1" r="2.3" fill="#e6e6dc"/><circle cx="160.8" cy="213.1" r="0.8" fill="#8a6a14"/>
<circle cx="165.6" cy="217.6" r="2.3" fill="#e6e6dc"/><circle cx="165.6" cy="217.6" r="0.8" fill="#8a6a14"/>
<circle cx="146.3" cy="218.1" r="2.3" fill="#e6e6dc"/><circle cx="146.3" cy="218.1" r="0.8" fill="#8a6a14"/>
<circle cx="150.8" cy="223.2" r="2.3" fill="#e6e6dc"/><circle cx="150.8" cy="223.2" r="0.8" fill="#8a6a14"/>
<circle cx="155.3" cy="228.2" r="2.3" fill="#e6e6dc"/><circle cx="155.3" cy="228.2" r="0.8" fill="#8a6a14"/>
<circle cx="181.4" cy="233.7" r="2.3" fill="#e6e6dc"/><circle cx="181.4" cy="233.7" r="0.8" fill="#8a6a14"/>
<circle cx="186.2" cy="238.2" r="2.3" fill="#e6e6dc"/><circle cx="186.2" cy="238.2" r="0.8" fill="#8a6a14"/>
<circle cx="190.9" cy="243.2" r="2.3" fill="#e6e6dc"/><circle cx="190.9" cy="243.2" r="0.8" fill="#8a6a14"/>
<circle cx="180.2" cy="263.5" r="2.3" fill="#e6e6dc"/><circle cx="180.2" cy="263.5" r="0.8" fill="#8a6a14"/>
<circle cx="211.5" cy="232.2" r="2.3" fill="#e6e6dc"/><circle cx="211.5" cy="232.2" r="0.8" fill="#8a6a14"/>
<circle cx="283.5" cy="186.3" r="2.3" fill="#e6e6dc"/><circle cx="283.5" cy="186.3" r="0.8" fill="#8a6a14"/>
<circle cx="420.0" cy="198.5" r="2.3" fill="#e6e6dc"/><circle cx="420.0" cy="198.5" r="0.8" fill="#8a6a14"/>
<circle cx="415.3" cy="203.2" r="2.3" fill="#e6e6dc"/><circle cx="415.3" cy="203.2" r="0.8" fill="#8a6a14"/>
<circle cx="410.2" cy="208.3" r="2.3" fill="#e6e6dc"/><circle cx="410.2" cy="208.3" r="0.8" fill="#8a6a14"/>
<circle cx="429.9" cy="208.5" r="2.3" fill="#e6e6dc"/><circle cx="429.9" cy="208.5" r="0.8" fill="#8a6a14"/>
<circle cx="425.2" cy="213.2" r="2.3" fill="#e6e6dc"/><circle cx="425.2" cy="213.2" r="0.8" fill="#8a6a14"/>
<circle cx="420.5" cy="217.9" r="2.3" fill="#e6e6dc"/><circle cx="420.5" cy="217.9" r="0.8" fill="#8a6a14"/>
<circle cx="374.8" cy="232.4" r="2.3" fill="#e6e6dc"/><circle cx="374.8" cy="232.4" r="0.8" fill="#8a6a14"/>
<circle cx="404.6" cy="233.9" r="2.3" fill="#e6e6dc"/><circle cx="404.6" cy="233.9" r="0.8" fill="#8a6a14"/>
<circle cx="399.9" cy="238.6" r="2.3" fill="#e6e6dc"/><circle cx="399.9" cy="238.6" r="0.8" fill="#8a6a14"/>
<circle cx="395.0" cy="243.1" r="2.3" fill="#e6e6dc"/><circle cx="395.0" cy="243.1" r="0.8" fill="#8a6a14"/>
<circle cx="405.9" cy="263.4" r="2.3" fill="#e6e6dc"/><circle cx="405.9" cy="263.4" r="0.8" fill="#8a6a14"/>
<circle cx="180.3" cy="518.8" r="2.3" fill="#e6e6dc"/><circle cx="180.3" cy="518.8" r="0.8" fill="#8a6a14"/>
<circle cx="190.8" cy="538.9" r="2.3" fill="#e6e6dc"/><circle cx="190.8" cy="538.9" r="0.8" fill="#8a6a14"/>
<circle cx="186.0" cy="543.9" r="2.3" fill="#e6e6dc"/><circle cx="186.0" cy="543.9" r="0.8" fill="#8a6a14"/>
<circle cx="181.5" cy="548.9" r="2.3" fill="#e6e6dc"/><circle cx="181.5" cy="548.9" r="0.8" fill="#8a6a14"/>
<circle cx="165.7" cy="564.5" r="2.3" fill="#e6e6dc"/><circle cx="165.7" cy="564.5" r="0.8" fill="#8a6a14"/>
<circle cx="160.9" cy="569.5" r="2.3" fill="#e6e6dc"/><circle cx="160.9" cy="569.5" r="0.8" fill="#8a6a14"/>
<circle cx="156.2" cy="574.0" r="2.3" fill="#e6e6dc"/><circle cx="156.2" cy="574.0" r="0.8" fill="#8a6a14"/>
<circle cx="175.7" cy="574.5" r="2.3" fill="#e6e6dc"/><circle cx="175.7" cy="574.5" r="0.8" fill="#8a6a14"/>
<circle cx="171.0" cy="579.3" r="2.3" fill="#e6e6dc"/><circle cx="171.0" cy="579.3" r="0.8" fill="#8a6a14"/>
<circle cx="166.2" cy="584.3" r="2.3" fill="#e6e6dc"/><circle cx="166.2" cy="584.3" r="0.8" fill="#8a6a14"/>
<circle cx="211.4" cy="550.2" r="2.3" fill="#e6e6dc"/><circle cx="211.4" cy="550.2" r="0.8" fill="#8a6a14"/>
<circle cx="406.2" cy="518.9" r="2.3" fill="#e6e6dc"/><circle cx="406.2" cy="518.9" r="0.8" fill="#8a6a14"/>
<circle cx="394.8" cy="538.8" r="2.3" fill="#e6e6dc"/><circle cx="394.8" cy="538.8" r="0.8" fill="#8a6a14"/>
<circle cx="399.8" cy="543.8" r="2.3" fill="#e6e6dc"/><circle cx="399.8" cy="543.8" r="0.8" fill="#8a6a14"/>
<circle cx="404.7" cy="548.8" r="2.3" fill="#e6e6dc"/><circle cx="404.7" cy="548.8" r="0.8" fill="#8a6a14"/>
<circle cx="374.8" cy="550.3" r="2.3" fill="#e6e6dc"/><circle cx="374.8" cy="550.3" r="0.8" fill="#8a6a14"/>
<circle cx="430.7" cy="554.8" r="2.3" fill="#e6e6dc"/><circle cx="430.7" cy="554.8" r="0.8" fill="#8a6a14"/>
<circle cx="435.7" cy="559.8" r="2.3" fill="#e6e6dc"/><circle cx="435.7" cy="559.8" r="0.8" fill="#8a6a14"/>
<circle cx="440.6" cy="564.7" r="2.3" fill="#e6e6dc"/><circle cx="440.6" cy="564.7" r="0.8" fill="#8a6a14"/>
<circle cx="419.7" cy="564.7" r="2.3" fill="#e6e6dc"/><circle cx="419.7" cy="564.7" r="0.8" fill="#8a6a14"/>
<circle cx="424.7" cy="569.7" r="2.3" fill="#e6e6dc"/><circle cx="424.7" cy="569.7" r="0.8" fill="#8a6a14"/>
<circle cx="429.7" cy="574.7" r="2.3" fill="#e6e6dc"/><circle cx="429.7" cy="574.7" r="0.8" fill="#8a6a14"/>
<circle cx="623.2" cy="571.8" r="2.3" fill="#e6e6dc"/><circle cx="623.2" cy="571.8" r="0.8" fill="#8a6a14"/>
<circle cx="633.9" cy="571.8" r="2.3" fill="#e6e6dc"/><circle cx="633.9" cy="571.8" r="0.8" fill="#8a6a14"/>
<circle cx="636.3" cy="535.5" r="2.3" fill="#e6e6dc"/><circle cx="636.3" cy="535.5" r="0.8" fill="#8a6a14"/>
<circle cx="636.3" cy="552.0" r="2.3" fill="#e6e6dc"/><circle cx="636.3" cy="552.0" r="0.8" fill="#8a6a14"/>
<circle cx="614.6" cy="717.4" r="2.3" fill="#e6e6dc"/><circle cx="614.6" cy="717.4" r="0.8" fill="#8a6a14"/>
<circle cx="604.5" cy="732.1" r="2.3" fill="#e6e6dc"/><circle cx="604.5" cy="732.1" r="0.8" fill="#8a6a14"/>
<circle cx="604.5" cy="752.3" r="2.3" fill="#e6e6dc"/><circle cx="604.5" cy="752.3" r="0.8" fill="#8a6a14"/>
<circle cx="614.6" cy="767.0" r="2.3" fill="#e6e6dc"/><circle cx="614.6" cy="767.0" r="0.8" fill="#8a6a14"/>
<circle cx="162.4" cy="93.2" r="2.3" fill="#e6e6dc"/><circle cx="162.4" cy="93.2" r="0.8" fill="#8a6a14"/>
<circle cx="176.6" cy="93.2" r="2.3" fill="#e6e6dc"/><circle cx="176.6" cy="93.2" r="0.8" fill="#8a6a14"/>
<circle cx="162.4" cy="107.3" r="2.3" fill="#e6e6dc"/><circle cx="162.4" cy="107.3" r="0.8" fill="#8a6a14"/>
<circle cx="409.3" cy="93.2" r="2.3" fill="#e6e6dc"/><circle cx="409.3" cy="93.2" r="0.8" fill="#8a6a14"/>
<circle cx="423.5" cy="93.2" r="2.3" fill="#e6e6dc"/><circle cx="423.5" cy="93.2" r="0.8" fill="#8a6a14"/>
<circle cx="423.5" cy="107.3" r="2.3" fill="#e6e6dc"/><circle cx="423.5" cy="107.3" r="0.8" fill="#8a6a14"/>
<circle cx="40.9" cy="214.4" r="2.3" fill="#e6e6dc"/><circle cx="40.9" cy="214.4" r="0.8" fill="#8a6a14"/>
<circle cx="55.1" cy="214.4" r="2.3" fill="#e6e6dc"/><circle cx="55.1" cy="214.4" r="0.8" fill="#8a6a14"/>
<circle cx="40.9" cy="228.5" r="2.3" fill="#e6e6dc"/><circle cx="40.9" cy="228.5" r="0.8" fill="#8a6a14"/>
<circle cx="530.9" cy="214.4" r="2.3" fill="#e6e6dc"/><circle cx="530.9" cy="214.4" r="0.8" fill="#8a6a14"/>
<circle cx="545.1" cy="214.4" r="2.3" fill="#e6e6dc"/><circle cx="545.1" cy="214.4" r="0.8" fill="#8a6a14"/>
<circle cx="545.1" cy="228.5" r="2.3" fill="#e6e6dc"/><circle cx="545.1" cy="228.5" r="0.8" fill="#8a6a14"/>
<circle cx="40.9" cy="553.4" r="2.3" fill="#e6e6dc"/><circle cx="40.9" cy="553.4" r="0.8" fill="#8a6a14"/>
<circle cx="40.9" cy="567.5" r="2.3" fill="#e6e6dc"/><circle cx="40.9" cy="567.5" r="0.8" fill="#8a6a14"/>
<circle cx="55.1" cy="567.5" r="2.3" fill="#e6e6dc"/><circle cx="55.1" cy="567.5" r="0.8" fill="#8a6a14"/>
<circle cx="545.1" cy="553.4" r="2.3" fill="#e6e6dc"/><circle cx="545.1" cy="553.4" r="0.8" fill="#8a6a14"/>
<circle cx="530.9" cy="567.5" r="2.3" fill="#e6e6dc"/><circle cx="530.9" cy="567.5" r="0.8" fill="#8a6a14"/>
<circle cx="545.1" cy="567.5" r="2.3" fill="#e6e6dc"/><circle cx="545.1" cy="567.5" r="0.8" fill="#8a6a14"/>
<circle cx="162.3" cy="675.2" r="2.3" fill="#e6e6dc"/><circle cx="162.3" cy="675.2" r="0.8" fill="#8a6a14"/>
<circle cx="162.3" cy="689.3" r="2.3" fill="#e6e6dc"/><circle cx="162.3" cy="689.3" r="0.8" fill="#8a6a14"/>
<circle cx="176.5" cy="689.3" r="2.3" fill="#e6e6dc"/><circle cx="176.5" cy="689.3" r="0.8" fill="#8a6a14"/>
<circle cx="423.5" cy="675.2" r="2.3" fill="#e6e6dc"/><circle cx="423.5" cy="675.2" r="0.8" fill="#8a6a14"/>
<circle cx="409.3" cy="689.3" r="2.3" fill="#e6e6dc"/><circle cx="409.3" cy="689.3" r="0.8" fill="#8a6a14"/>
<circle cx="423.5" cy="689.3" r="2.3" fill="#e6e6dc"/><circle cx="423.5" cy="689.3" r="0.8" fill="#8a6a14"/>
</g>
</svg>
</body></html>
